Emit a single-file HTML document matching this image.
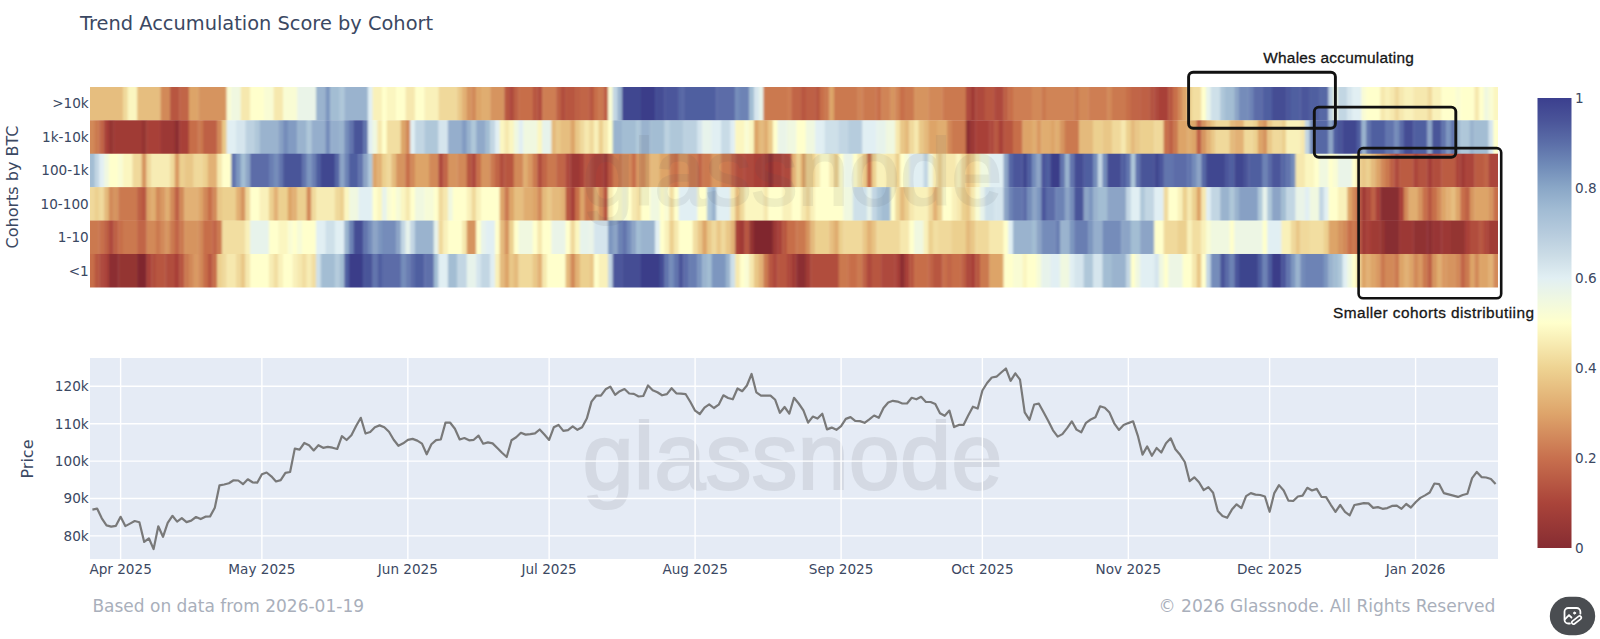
<!DOCTYPE html>
<html><head><meta charset="utf-8"><title>Trend Accumulation Score by Cohort</title>
<style>
html,body{margin:0;padding:0;background:#fff;}
body{width:1600px;height:639px;overflow:hidden;position:relative;font-family:"DejaVu Sans","Liberation Sans",sans-serif;}
svg{position:absolute;left:0;top:0;display:block}
text{font-family:"DejaVu Sans","Liberation Sans",sans-serif;fill:#3b4862}
.ann{font-family:"Liberation Sans","DejaVu Sans",sans-serif;fill:#161616;stroke:#161616;stroke-width:0.3px}
</style></head><body>
<svg width="1600" height="639" viewBox="0 0 1600 639">
<defs>
<linearGradient id="cb" x1="0" y1="1" x2="0" y2="0">
<stop offset="0" stop-color="#862c32"/><stop offset="0.1" stop-color="#aa443a"/><stop offset="0.2" stop-color="#c8704e"/><stop offset="0.3" stop-color="#dea56b"/><stop offset="0.4" stop-color="#eed392"/><stop offset="0.5" stop-color="#ffffcc"/><stop offset="0.55" stop-color="#f0f8e0"/><stop offset="0.6" stop-color="#e1eff3"/><stop offset="0.65" stop-color="#cbdce6"/><stop offset="0.7" stop-color="#b6cbdd"/><stop offset="0.75" stop-color="#a2bcd4"/><stop offset="0.8" stop-color="#8aa7c7"/><stop offset="0.85" stop-color="#708bb8"/><stop offset="0.9" stop-color="#5b6ea8"/><stop offset="0.95" stop-color="#4a5499"/><stop offset="1" stop-color="#3b3f8e"/></linearGradient>
<filter id="hb" x="-2%" y="-10%" width="104%" height="120%"><feGaussianBlur stdDeviation="0.85 0.45"/></filter>
<clipPath id="hc"><rect x="90" y="86.9" width="1408" height="200.5"/></clipPath>
</defs>
<rect width="1600" height="639" fill="#fff"/>
<g clip-path="url(#hc)"><g filter="url(#hb)">
<rect x="82.00" y="81.90" width="41.26" height="38.72" fill="#e6be7f"/><rect x="122.96" y="81.90" width="5.01" height="38.72" fill="#f0d99b"/><rect x="127.67" y="81.90" width="9.72" height="38.72" fill="#fbf6c0"/><rect x="137.09" y="81.90" width="23.85" height="38.72" fill="#e6be7f"/><rect x="160.64" y="81.90" width="9.72" height="38.72" fill="#d28959"/><rect x="170.05" y="81.90" width="9.72" height="38.72" fill="#b85741"/><rect x="179.47" y="81.90" width="9.72" height="38.72" fill="#c16546"/><rect x="188.89" y="81.90" width="9.72" height="38.72" fill="#dda468"/><rect x="198.31" y="81.90" width="28.55" height="38.72" fill="#d6945f"/><rect x="226.56" y="81.90" width="5.01" height="38.72" fill="#f9fcd4"/><rect x="231.27" y="81.90" width="9.72" height="38.72" fill="#f0f8e0"/><rect x="240.69" y="81.90" width="9.72" height="38.72" fill="#f6e8ae"/><rect x="250.11" y="81.90" width="14.43" height="38.72" fill="#ffffcc"/><rect x="264.23" y="81.90" width="9.72" height="38.72" fill="#f9fcd4"/><rect x="273.65" y="81.90" width="9.72" height="38.72" fill="#f6e8ae"/><rect x="283.07" y="81.90" width="14.43" height="38.72" fill="#f9fcd4"/><rect x="297.20" y="81.90" width="19.14" height="38.72" fill="#eaf4e8"/><rect x="316.03" y="81.90" width="9.72" height="38.72" fill="#9ab3ce"/><rect x="325.45" y="81.90" width="5.01" height="38.72" fill="#7d96bf"/><rect x="330.16" y="81.90" width="9.72" height="38.72" fill="#a3bdd3"/><rect x="339.58" y="81.90" width="5.01" height="38.72" fill="#afc7d9"/><rect x="344.29" y="81.90" width="23.85" height="38.72" fill="#9ab3ce"/><rect x="367.83" y="81.90" width="5.01" height="38.72" fill="#e1eff3"/><rect x="372.54" y="81.90" width="9.72" height="38.72" fill="#f9f1ba"/><rect x="381.96" y="81.90" width="5.01" height="38.72" fill="#ffffcc"/><rect x="386.67" y="81.90" width="9.72" height="38.72" fill="#fbf6c0"/><rect x="396.09" y="81.90" width="9.72" height="38.72" fill="#ffffcc"/><rect x="405.51" y="81.90" width="9.72" height="38.72" fill="#f6e8ae"/><rect x="414.92" y="81.90" width="9.72" height="38.72" fill="#ffffcc"/><rect x="424.34" y="81.90" width="14.43" height="38.72" fill="#f9f1ba"/><rect x="438.47" y="81.90" width="19.14" height="38.72" fill="#f0d99b"/><rect x="457.30" y="81.90" width="5.01" height="38.72" fill="#e9c787"/><rect x="462.01" y="81.90" width="5.01" height="38.72" fill="#e2b174"/><rect x="466.72" y="81.90" width="5.01" height="38.72" fill="#d6945f"/><rect x="471.43" y="81.90" width="5.01" height="38.72" fill="#d28959"/><rect x="476.14" y="81.90" width="5.01" height="38.72" fill="#dda468"/><rect x="480.85" y="81.90" width="9.72" height="38.72" fill="#e0ad70"/><rect x="490.27" y="81.90" width="14.43" height="38.72" fill="#d6945f"/><rect x="504.39" y="81.90" width="5.01" height="38.72" fill="#b85741"/><rect x="509.10" y="81.90" width="5.01" height="38.72" fill="#ae493c"/><rect x="513.81" y="81.90" width="5.01" height="38.72" fill="#be6045"/><rect x="518.52" y="81.90" width="14.43" height="38.72" fill="#c76e4a"/><rect x="532.65" y="81.90" width="5.01" height="38.72" fill="#b85741"/><rect x="537.36" y="81.90" width="5.01" height="38.72" fill="#b14e3d"/><rect x="542.07" y="81.90" width="14.43" height="38.72" fill="#ce7e53"/><rect x="556.19" y="81.90" width="5.01" height="38.72" fill="#be6045"/><rect x="560.90" y="81.90" width="5.01" height="38.72" fill="#b14e3d"/><rect x="565.61" y="81.90" width="9.72" height="38.72" fill="#b85741"/><rect x="575.03" y="81.90" width="5.01" height="38.72" fill="#be6045"/><rect x="579.74" y="81.90" width="9.72" height="38.72" fill="#c16546"/><rect x="589.16" y="81.90" width="5.01" height="38.72" fill="#b85741"/><rect x="593.87" y="81.90" width="5.01" height="38.72" fill="#c76e4a"/><rect x="598.58" y="81.90" width="5.01" height="38.72" fill="#cb7950"/><rect x="603.28" y="81.90" width="5.01" height="38.72" fill="#be6045"/><rect x="607.99" y="81.90" width="5.01" height="38.72" fill="#f9fcd4"/><rect x="612.70" y="81.90" width="5.01" height="38.72" fill="#c2d6e3"/><rect x="617.41" y="81.90" width="5.01" height="38.72" fill="#9ab3ce"/><rect x="622.12" y="81.90" width="19.14" height="38.72" fill="#414790"/><rect x="640.96" y="81.90" width="14.43" height="38.72" fill="#3a3d89"/><rect x="655.08" y="81.90" width="9.72" height="38.72" fill="#454e94"/><rect x="664.50" y="81.90" width="14.43" height="38.72" fill="#4c579b"/><rect x="678.63" y="81.90" width="5.01" height="38.72" fill="#5767a5"/><rect x="683.34" y="81.90" width="33.26" height="38.72" fill="#505ea0"/><rect x="716.30" y="81.90" width="19.14" height="38.72" fill="#5b6ca8"/><rect x="735.14" y="81.90" width="5.01" height="38.72" fill="#748cba"/><rect x="739.85" y="81.90" width="9.72" height="38.72" fill="#6d83b5"/><rect x="749.26" y="81.90" width="5.01" height="38.72" fill="#a3bdd3"/><rect x="753.97" y="81.90" width="5.01" height="38.72" fill="#d5e5ed"/><rect x="758.68" y="81.90" width="5.01" height="38.72" fill="#e7f3eb"/><rect x="763.39" y="81.90" width="23.85" height="38.72" fill="#cb7950"/><rect x="786.94" y="81.90" width="5.01" height="38.72" fill="#ce7e53"/><rect x="791.65" y="81.90" width="9.72" height="38.72" fill="#c16546"/><rect x="801.06" y="81.90" width="5.01" height="38.72" fill="#b85741"/><rect x="805.77" y="81.90" width="9.72" height="38.72" fill="#be6045"/><rect x="815.19" y="81.90" width="5.01" height="38.72" fill="#b85741"/><rect x="819.90" y="81.90" width="5.01" height="38.72" fill="#c76e4a"/><rect x="824.61" y="81.90" width="5.01" height="38.72" fill="#cb7950"/><rect x="829.32" y="81.90" width="5.01" height="38.72" fill="#dda468"/><rect x="834.03" y="81.90" width="23.85" height="38.72" fill="#cb7950"/><rect x="857.57" y="81.90" width="5.01" height="38.72" fill="#d08456"/><rect x="862.28" y="81.90" width="14.43" height="38.72" fill="#cb7950"/><rect x="876.41" y="81.90" width="5.01" height="38.72" fill="#c76e4a"/><rect x="881.12" y="81.90" width="9.72" height="38.72" fill="#d08456"/><rect x="890.54" y="81.90" width="5.01" height="38.72" fill="#d6945f"/><rect x="895.24" y="81.90" width="5.01" height="38.72" fill="#d08456"/><rect x="899.95" y="81.90" width="5.01" height="38.72" fill="#c76e4a"/><rect x="904.66" y="81.90" width="9.72" height="38.72" fill="#cb7950"/><rect x="914.08" y="81.90" width="14.43" height="38.72" fill="#d6945f"/><rect x="928.21" y="81.90" width="14.43" height="38.72" fill="#d28959"/><rect x="942.33" y="81.90" width="23.85" height="38.72" fill="#cb7950"/><rect x="965.88" y="81.90" width="5.01" height="38.72" fill="#ae493c"/><rect x="970.59" y="81.90" width="5.01" height="38.72" fill="#a03b36"/><rect x="975.30" y="81.90" width="9.72" height="38.72" fill="#ae493c"/><rect x="984.72" y="81.90" width="9.72" height="38.72" fill="#b85741"/><rect x="994.13" y="81.90" width="9.72" height="38.72" fill="#ae493c"/><rect x="1003.55" y="81.90" width="5.01" height="38.72" fill="#be6045"/><rect x="1008.26" y="81.90" width="5.01" height="38.72" fill="#c76e4a"/><rect x="1012.97" y="81.90" width="19.14" height="38.72" fill="#ce7e53"/><rect x="1031.81" y="81.90" width="9.72" height="38.72" fill="#d28959"/><rect x="1041.22" y="81.90" width="5.01" height="38.72" fill="#cb7950"/><rect x="1045.93" y="81.90" width="28.55" height="38.72" fill="#d08456"/><rect x="1074.19" y="81.90" width="5.01" height="38.72" fill="#cb7950"/><rect x="1078.90" y="81.90" width="9.72" height="38.72" fill="#d28959"/><rect x="1088.31" y="81.90" width="19.14" height="38.72" fill="#ce7e53"/><rect x="1107.15" y="81.90" width="5.01" height="38.72" fill="#d28959"/><rect x="1111.86" y="81.90" width="14.43" height="38.72" fill="#cb7950"/><rect x="1125.99" y="81.90" width="5.01" height="38.72" fill="#c76e4a"/><rect x="1130.70" y="81.90" width="9.72" height="38.72" fill="#c16546"/><rect x="1140.11" y="81.90" width="9.72" height="38.72" fill="#be6045"/><rect x="1149.53" y="81.90" width="5.01" height="38.72" fill="#b4523f"/><rect x="1154.24" y="81.90" width="5.01" height="38.72" fill="#ae493c"/><rect x="1158.95" y="81.90" width="9.72" height="38.72" fill="#a84038"/><rect x="1168.37" y="81.90" width="5.01" height="38.72" fill="#b85741"/><rect x="1173.08" y="81.90" width="5.01" height="38.72" fill="#c76e4a"/><rect x="1177.79" y="81.90" width="5.01" height="38.72" fill="#d28959"/><rect x="1182.49" y="81.90" width="5.01" height="38.72" fill="#dda468"/><rect x="1187.20" y="81.90" width="5.01" height="38.72" fill="#ecd08f"/><rect x="1191.91" y="81.90" width="9.72" height="38.72" fill="#f2dea1"/><rect x="1201.33" y="81.90" width="5.01" height="38.72" fill="#ffffcc"/><rect x="1206.04" y="81.90" width="5.01" height="38.72" fill="#e7f3eb"/><rect x="1210.75" y="81.90" width="9.72" height="38.72" fill="#cee0e9"/><rect x="1220.17" y="81.90" width="5.01" height="38.72" fill="#afc7d9"/><rect x="1224.88" y="81.90" width="9.72" height="38.72" fill="#a3bdd3"/><rect x="1234.29" y="81.90" width="5.01" height="38.72" fill="#8ca4c6"/><rect x="1239.00" y="81.90" width="9.72" height="38.72" fill="#748cba"/><rect x="1248.42" y="81.90" width="5.01" height="38.72" fill="#6d83b5"/><rect x="1253.13" y="81.90" width="9.72" height="38.72" fill="#5b6ca8"/><rect x="1262.55" y="81.90" width="9.72" height="38.72" fill="#505ea0"/><rect x="1271.97" y="81.90" width="14.43" height="38.72" fill="#454e94"/><rect x="1286.09" y="81.90" width="5.01" height="38.72" fill="#4c579b"/><rect x="1290.80" y="81.90" width="9.72" height="38.72" fill="#505ea0"/><rect x="1300.22" y="81.90" width="9.72" height="38.72" fill="#4c579b"/><rect x="1309.64" y="81.90" width="9.72" height="38.72" fill="#505ea0"/><rect x="1319.06" y="81.90" width="9.72" height="38.72" fill="#5767a5"/><rect x="1328.47" y="81.90" width="5.01" height="38.72" fill="#c2d6e3"/><rect x="1333.18" y="81.90" width="5.01" height="38.72" fill="#f0f8e0"/><rect x="1337.89" y="81.90" width="9.72" height="38.72" fill="#c2d6e3"/><rect x="1347.31" y="81.90" width="5.01" height="38.72" fill="#d5e5ed"/><rect x="1352.02" y="81.90" width="9.72" height="38.72" fill="#e1eff3"/><rect x="1361.44" y="81.90" width="5.01" height="38.72" fill="#f9fcd4"/><rect x="1366.15" y="81.90" width="14.43" height="38.72" fill="#ffffcc"/><rect x="1380.27" y="81.90" width="5.01" height="38.72" fill="#f6e8ae"/><rect x="1384.98" y="81.90" width="5.01" height="38.72" fill="#f9f1ba"/><rect x="1389.69" y="81.90" width="5.01" height="38.72" fill="#f6e8ae"/><rect x="1394.40" y="81.90" width="5.01" height="38.72" fill="#f0d99b"/><rect x="1399.11" y="81.90" width="5.01" height="38.72" fill="#f6e8ae"/><rect x="1403.82" y="81.90" width="9.72" height="38.72" fill="#f9f1ba"/><rect x="1413.24" y="81.90" width="14.43" height="38.72" fill="#f6e8ae"/><rect x="1427.36" y="81.90" width="5.01" height="38.72" fill="#f0d99b"/><rect x="1432.07" y="81.90" width="9.72" height="38.72" fill="#f9f1ba"/><rect x="1441.49" y="81.90" width="14.43" height="38.72" fill="#ffffcc"/><rect x="1455.62" y="81.90" width="5.01" height="38.72" fill="#f9fcd4"/><rect x="1460.33" y="81.90" width="14.43" height="38.72" fill="#ffffcc"/><rect x="1474.45" y="81.90" width="5.01" height="38.72" fill="#f6e8ae"/><rect x="1479.16" y="81.90" width="5.01" height="38.72" fill="#ffffcc"/><rect x="1483.87" y="81.90" width="5.01" height="38.72" fill="#f0f8e0"/><rect x="1488.58" y="81.90" width="5.01" height="38.72" fill="#f9fcd4"/><rect x="1493.29" y="81.90" width="13.01" height="38.72" fill="#fbf6c0"/>
<rect x="82.00" y="120.32" width="13.01" height="33.72" fill="#d28959"/><rect x="94.71" y="120.32" width="5.01" height="33.72" fill="#cb7950"/><rect x="99.42" y="120.32" width="5.01" height="33.72" fill="#c16546"/><rect x="104.13" y="120.32" width="5.01" height="33.72" fill="#a84038"/><rect x="108.84" y="120.32" width="5.01" height="33.72" fill="#943433"/><rect x="113.55" y="120.32" width="28.55" height="33.72" fill="#a03b36"/><rect x="141.80" y="120.32" width="5.01" height="33.72" fill="#943433"/><rect x="146.51" y="120.32" width="14.43" height="33.72" fill="#a84038"/><rect x="160.64" y="120.32" width="14.43" height="33.72" fill="#9c3935"/><rect x="174.76" y="120.32" width="5.01" height="33.72" fill="#8c2f31"/><rect x="179.47" y="120.32" width="9.72" height="33.72" fill="#a84038"/><rect x="188.89" y="120.32" width="9.72" height="33.72" fill="#c76e4a"/><rect x="198.31" y="120.32" width="5.01" height="33.72" fill="#cb7950"/><rect x="203.02" y="120.32" width="14.43" height="33.72" fill="#be6045"/><rect x="217.14" y="120.32" width="5.01" height="33.72" fill="#d28959"/><rect x="221.85" y="120.32" width="5.01" height="33.72" fill="#e9c787"/><rect x="226.56" y="120.32" width="9.72" height="33.72" fill="#e1eff3"/><rect x="235.98" y="120.32" width="9.72" height="33.72" fill="#d5e5ed"/><rect x="245.40" y="120.32" width="9.72" height="33.72" fill="#bcd1e0"/><rect x="254.82" y="120.32" width="5.01" height="33.72" fill="#afc7d9"/><rect x="259.53" y="120.32" width="19.14" height="33.72" fill="#9ab3ce"/><rect x="278.36" y="120.32" width="5.01" height="33.72" fill="#87a0c4"/><rect x="283.07" y="120.32" width="5.01" height="33.72" fill="#748cba"/><rect x="287.78" y="120.32" width="9.72" height="33.72" fill="#829bc2"/><rect x="297.20" y="120.32" width="9.72" height="33.72" fill="#9ab3ce"/><rect x="306.62" y="120.32" width="5.01" height="33.72" fill="#afc7d9"/><rect x="311.32" y="120.32" width="14.43" height="33.72" fill="#95aecc"/><rect x="325.45" y="120.32" width="5.01" height="33.72" fill="#748cba"/><rect x="330.16" y="120.32" width="9.72" height="33.72" fill="#95aecc"/><rect x="339.58" y="120.32" width="5.01" height="33.72" fill="#9ab3ce"/><rect x="344.29" y="120.32" width="5.01" height="33.72" fill="#748cba"/><rect x="349.00" y="120.32" width="5.01" height="33.72" fill="#6275ad"/><rect x="353.71" y="120.32" width="9.72" height="33.72" fill="#495499"/><rect x="363.12" y="120.32" width="5.01" height="33.72" fill="#6275ad"/><rect x="367.83" y="120.32" width="5.01" height="33.72" fill="#e1eff3"/><rect x="372.54" y="120.32" width="5.01" height="33.72" fill="#f0f8e0"/><rect x="377.25" y="120.32" width="5.01" height="33.72" fill="#f6e8ae"/><rect x="381.96" y="120.32" width="5.01" height="33.72" fill="#ffffcc"/><rect x="386.67" y="120.32" width="14.43" height="33.72" fill="#f2dea1"/><rect x="400.80" y="120.32" width="5.01" height="33.72" fill="#dda468"/><rect x="405.51" y="120.32" width="5.01" height="33.72" fill="#d28959"/><rect x="410.21" y="120.32" width="5.01" height="33.72" fill="#e1eff3"/><rect x="414.92" y="120.32" width="9.72" height="33.72" fill="#c2d6e3"/><rect x="424.34" y="120.32" width="14.43" height="33.72" fill="#afc7d9"/><rect x="438.47" y="120.32" width="9.72" height="33.72" fill="#d5e5ed"/><rect x="447.89" y="120.32" width="14.43" height="33.72" fill="#95aecc"/><rect x="462.01" y="120.32" width="5.01" height="33.72" fill="#829bc2"/><rect x="466.72" y="120.32" width="5.01" height="33.72" fill="#9ab3ce"/><rect x="471.43" y="120.32" width="5.01" height="33.72" fill="#afc7d9"/><rect x="476.14" y="120.32" width="9.72" height="33.72" fill="#90a9c9"/><rect x="485.56" y="120.32" width="5.01" height="33.72" fill="#a3bdd3"/><rect x="490.27" y="120.32" width="5.01" height="33.72" fill="#c2d6e3"/><rect x="494.98" y="120.32" width="5.01" height="33.72" fill="#e1eff3"/><rect x="499.69" y="120.32" width="5.01" height="33.72" fill="#fbf6c0"/><rect x="504.39" y="120.32" width="5.01" height="33.72" fill="#f6e8ae"/><rect x="509.10" y="120.32" width="5.01" height="33.72" fill="#fbf6c0"/><rect x="513.81" y="120.32" width="5.01" height="33.72" fill="#f0f8e0"/><rect x="518.52" y="120.32" width="5.01" height="33.72" fill="#e1eff3"/><rect x="523.23" y="120.32" width="14.43" height="33.72" fill="#f0f8e0"/><rect x="537.36" y="120.32" width="5.01" height="33.72" fill="#fbf6c0"/><rect x="542.07" y="120.32" width="9.72" height="33.72" fill="#e7f3eb"/><rect x="551.48" y="120.32" width="5.01" height="33.72" fill="#e4ba7b"/><rect x="556.19" y="120.32" width="5.01" height="33.72" fill="#e9c787"/><rect x="560.90" y="120.32" width="9.72" height="33.72" fill="#e6be7f"/><rect x="570.32" y="120.32" width="5.01" height="33.72" fill="#dda468"/><rect x="575.03" y="120.32" width="5.01" height="33.72" fill="#e9c787"/><rect x="579.74" y="120.32" width="5.01" height="33.72" fill="#f0d99b"/><rect x="584.45" y="120.32" width="5.01" height="33.72" fill="#f6e8ae"/><rect x="589.16" y="120.32" width="5.01" height="33.72" fill="#f0d99b"/><rect x="593.87" y="120.32" width="5.01" height="33.72" fill="#f9f1ba"/><rect x="598.58" y="120.32" width="5.01" height="33.72" fill="#ecd08f"/><rect x="603.28" y="120.32" width="5.01" height="33.72" fill="#f6e8ae"/><rect x="607.99" y="120.32" width="5.01" height="33.72" fill="#ffffcc"/><rect x="612.70" y="120.32" width="9.72" height="33.72" fill="#9ab3ce"/><rect x="622.12" y="120.32" width="14.43" height="33.72" fill="#a3bdd3"/><rect x="636.25" y="120.32" width="5.01" height="33.72" fill="#afc7d9"/><rect x="640.96" y="120.32" width="9.72" height="33.72" fill="#9ab3ce"/><rect x="650.37" y="120.32" width="14.43" height="33.72" fill="#a3bdd3"/><rect x="664.50" y="120.32" width="5.01" height="33.72" fill="#bcd1e0"/><rect x="669.21" y="120.32" width="14.43" height="33.72" fill="#afc7d9"/><rect x="683.34" y="120.32" width="14.43" height="33.72" fill="#bcd1e0"/><rect x="697.46" y="120.32" width="5.01" height="33.72" fill="#d5e5ed"/><rect x="702.17" y="120.32" width="9.72" height="33.72" fill="#e7f3eb"/><rect x="711.59" y="120.32" width="9.72" height="33.72" fill="#e1eff3"/><rect x="721.01" y="120.32" width="9.72" height="33.72" fill="#c8dbe6"/><rect x="730.43" y="120.32" width="5.01" height="33.72" fill="#e1eff3"/><rect x="735.14" y="120.32" width="9.72" height="33.72" fill="#fbf6c0"/><rect x="744.56" y="120.32" width="5.01" height="33.72" fill="#f9fcd4"/><rect x="749.26" y="120.32" width="5.01" height="33.72" fill="#fbf6c0"/><rect x="753.97" y="120.32" width="5.01" height="33.72" fill="#dda468"/><rect x="758.68" y="120.32" width="5.01" height="33.72" fill="#e4ba7b"/><rect x="763.39" y="120.32" width="5.01" height="33.72" fill="#e0ad70"/><rect x="768.10" y="120.32" width="5.01" height="33.72" fill="#e9c787"/><rect x="772.81" y="120.32" width="5.01" height="33.72" fill="#ffffcc"/><rect x="777.52" y="120.32" width="9.72" height="33.72" fill="#eaf4e8"/><rect x="786.94" y="120.32" width="9.72" height="33.72" fill="#f0f8e0"/><rect x="796.35" y="120.32" width="9.72" height="33.72" fill="#ffffcc"/><rect x="805.77" y="120.32" width="9.72" height="33.72" fill="#f0f8e0"/><rect x="815.19" y="120.32" width="9.72" height="33.72" fill="#e1eff3"/><rect x="824.61" y="120.32" width="14.43" height="33.72" fill="#cee0e9"/><rect x="838.74" y="120.32" width="9.72" height="33.72" fill="#c2d6e3"/><rect x="848.15" y="120.32" width="14.43" height="33.72" fill="#b6ccdd"/><rect x="862.28" y="120.32" width="14.43" height="33.72" fill="#e1eff3"/><rect x="876.41" y="120.32" width="9.72" height="33.72" fill="#e7f3eb"/><rect x="885.83" y="120.32" width="9.72" height="33.72" fill="#f0f8e0"/><rect x="895.24" y="120.32" width="5.01" height="33.72" fill="#f6e8ae"/><rect x="899.95" y="120.32" width="5.01" height="33.72" fill="#e9c787"/><rect x="904.66" y="120.32" width="5.01" height="33.72" fill="#e4ba7b"/><rect x="909.37" y="120.32" width="5.01" height="33.72" fill="#f0d99b"/><rect x="914.08" y="120.32" width="5.01" height="33.72" fill="#f6e8ae"/><rect x="918.79" y="120.32" width="5.01" height="33.72" fill="#e9c787"/><rect x="923.50" y="120.32" width="5.01" height="33.72" fill="#e4ba7b"/><rect x="928.21" y="120.32" width="9.72" height="33.72" fill="#dda468"/><rect x="937.63" y="120.32" width="9.72" height="33.72" fill="#e0ad70"/><rect x="947.04" y="120.32" width="5.01" height="33.72" fill="#d28959"/><rect x="951.75" y="120.32" width="14.43" height="33.72" fill="#cb7950"/><rect x="965.88" y="120.32" width="5.01" height="33.72" fill="#8c2f31"/><rect x="970.59" y="120.32" width="5.01" height="33.72" fill="#9c3935"/><rect x="975.30" y="120.32" width="14.43" height="33.72" fill="#a84038"/><rect x="989.42" y="120.32" width="5.01" height="33.72" fill="#ae493c"/><rect x="994.13" y="120.32" width="5.01" height="33.72" fill="#b85741"/><rect x="998.84" y="120.32" width="5.01" height="33.72" fill="#a84038"/><rect x="1003.55" y="120.32" width="9.72" height="33.72" fill="#b85741"/><rect x="1012.97" y="120.32" width="9.72" height="33.72" fill="#c76e4a"/><rect x="1022.39" y="120.32" width="9.72" height="33.72" fill="#dda468"/><rect x="1031.81" y="120.32" width="5.01" height="33.72" fill="#e0ad70"/><rect x="1036.52" y="120.32" width="5.01" height="33.72" fill="#d99962"/><rect x="1041.22" y="120.32" width="9.72" height="33.72" fill="#e0ad70"/><rect x="1050.64" y="120.32" width="5.01" height="33.72" fill="#dda468"/><rect x="1055.35" y="120.32" width="5.01" height="33.72" fill="#e0ad70"/><rect x="1060.06" y="120.32" width="5.01" height="33.72" fill="#d6945f"/><rect x="1064.77" y="120.32" width="14.43" height="33.72" fill="#cb7950"/><rect x="1078.90" y="120.32" width="14.43" height="33.72" fill="#e4ba7b"/><rect x="1093.02" y="120.32" width="9.72" height="33.72" fill="#ecd08f"/><rect x="1102.44" y="120.32" width="9.72" height="33.72" fill="#e9c787"/><rect x="1111.86" y="120.32" width="9.72" height="33.72" fill="#f0d99b"/><rect x="1121.28" y="120.32" width="5.01" height="33.72" fill="#f6e8ae"/><rect x="1125.99" y="120.32" width="5.01" height="33.72" fill="#ecd08f"/><rect x="1130.70" y="120.32" width="5.01" height="33.72" fill="#e4ba7b"/><rect x="1135.40" y="120.32" width="5.01" height="33.72" fill="#e9c787"/><rect x="1140.11" y="120.32" width="14.43" height="33.72" fill="#ecd08f"/><rect x="1154.24" y="120.32" width="9.72" height="33.72" fill="#f0d99b"/><rect x="1163.66" y="120.32" width="5.01" height="33.72" fill="#c76e4a"/><rect x="1168.37" y="120.32" width="5.01" height="33.72" fill="#be6045"/><rect x="1173.08" y="120.32" width="5.01" height="33.72" fill="#cb7950"/><rect x="1177.79" y="120.32" width="9.72" height="33.72" fill="#dda468"/><rect x="1187.20" y="120.32" width="5.01" height="33.72" fill="#e0ad70"/><rect x="1191.91" y="120.32" width="5.01" height="33.72" fill="#dda468"/><rect x="1196.62" y="120.32" width="5.01" height="33.72" fill="#be6045"/><rect x="1201.33" y="120.32" width="5.01" height="33.72" fill="#d6945f"/><rect x="1206.04" y="120.32" width="5.01" height="33.72" fill="#e2b174"/><rect x="1210.75" y="120.32" width="5.01" height="33.72" fill="#e9c787"/><rect x="1215.46" y="120.32" width="14.43" height="33.72" fill="#f0d99b"/><rect x="1229.59" y="120.32" width="5.01" height="33.72" fill="#e4ba7b"/><rect x="1234.29" y="120.32" width="9.72" height="33.72" fill="#e2b174"/><rect x="1243.71" y="120.32" width="9.72" height="33.72" fill="#f0d99b"/><rect x="1253.13" y="120.32" width="5.01" height="33.72" fill="#ecd08f"/><rect x="1257.84" y="120.32" width="5.01" height="33.72" fill="#dda468"/><rect x="1262.55" y="120.32" width="5.01" height="33.72" fill="#d6945f"/><rect x="1267.26" y="120.32" width="5.01" height="33.72" fill="#e9c787"/><rect x="1271.97" y="120.32" width="9.72" height="33.72" fill="#f0d99b"/><rect x="1281.38" y="120.32" width="5.01" height="33.72" fill="#ecd08f"/><rect x="1286.09" y="120.32" width="14.43" height="33.72" fill="#f9f1ba"/><rect x="1300.22" y="120.32" width="5.01" height="33.72" fill="#f6e8ae"/><rect x="1304.93" y="120.32" width="5.01" height="33.72" fill="#c2d6e3"/><rect x="1309.64" y="120.32" width="5.01" height="33.72" fill="#748cba"/><rect x="1314.35" y="120.32" width="14.43" height="33.72" fill="#5767a5"/><rect x="1328.47" y="120.32" width="5.01" height="33.72" fill="#8ca4c6"/><rect x="1333.18" y="120.32" width="5.01" height="33.72" fill="#505ea0"/><rect x="1337.89" y="120.32" width="5.01" height="33.72" fill="#495499"/><rect x="1342.60" y="120.32" width="14.43" height="33.72" fill="#414790"/><rect x="1356.73" y="120.32" width="5.01" height="33.72" fill="#505ea0"/><rect x="1361.44" y="120.32" width="5.01" height="33.72" fill="#9ab3ce"/><rect x="1366.15" y="120.32" width="5.01" height="33.72" fill="#6275ad"/><rect x="1370.86" y="120.32" width="14.43" height="33.72" fill="#505ea0"/><rect x="1384.98" y="120.32" width="9.72" height="33.72" fill="#6275ad"/><rect x="1394.40" y="120.32" width="5.01" height="33.72" fill="#748cba"/><rect x="1399.11" y="120.32" width="5.01" height="33.72" fill="#5b6ca8"/><rect x="1403.82" y="120.32" width="9.72" height="33.72" fill="#454e94"/><rect x="1413.24" y="120.32" width="14.43" height="33.72" fill="#505ea0"/><rect x="1427.36" y="120.32" width="5.01" height="33.72" fill="#8ca4c6"/><rect x="1432.07" y="120.32" width="9.72" height="33.72" fill="#495499"/><rect x="1441.49" y="120.32" width="5.01" height="33.72" fill="#6275ad"/><rect x="1446.20" y="120.32" width="5.01" height="33.72" fill="#7d96bf"/><rect x="1450.91" y="120.32" width="5.01" height="33.72" fill="#6275ad"/><rect x="1455.62" y="120.32" width="5.01" height="33.72" fill="#9ab3ce"/><rect x="1460.33" y="120.32" width="9.72" height="33.72" fill="#afc7d9"/><rect x="1469.75" y="120.32" width="5.01" height="33.72" fill="#9ab3ce"/><rect x="1474.45" y="120.32" width="14.43" height="33.72" fill="#a3bdd3"/><rect x="1488.58" y="120.32" width="5.01" height="33.72" fill="#d5e5ed"/><rect x="1493.29" y="120.32" width="13.01" height="33.72" fill="#ffffcc"/>
<rect x="82.00" y="153.73" width="13.01" height="33.72" fill="#a3bdd3"/><rect x="94.71" y="153.73" width="5.01" height="33.72" fill="#c2d6e3"/><rect x="99.42" y="153.73" width="5.01" height="33.72" fill="#e1eff3"/><rect x="104.13" y="153.73" width="5.01" height="33.72" fill="#f0f8e0"/><rect x="108.84" y="153.73" width="9.72" height="33.72" fill="#ffffcc"/><rect x="118.25" y="153.73" width="5.01" height="33.72" fill="#f9fcd4"/><rect x="122.96" y="153.73" width="9.72" height="33.72" fill="#fbf6c0"/><rect x="132.38" y="153.73" width="9.72" height="33.72" fill="#f0d99b"/><rect x="141.80" y="153.73" width="5.01" height="33.72" fill="#d6945f"/><rect x="146.51" y="153.73" width="5.01" height="33.72" fill="#f0d99b"/><rect x="151.22" y="153.73" width="19.14" height="33.72" fill="#f7ecb4"/><rect x="170.05" y="153.73" width="5.01" height="33.72" fill="#f0d99b"/><rect x="174.76" y="153.73" width="5.01" height="33.72" fill="#d99962"/><rect x="179.47" y="153.73" width="5.01" height="33.72" fill="#ecd08f"/><rect x="184.18" y="153.73" width="9.72" height="33.72" fill="#e9c787"/><rect x="193.60" y="153.73" width="9.72" height="33.72" fill="#f0d99b"/><rect x="203.02" y="153.73" width="5.01" height="33.72" fill="#ecd08f"/><rect x="207.73" y="153.73" width="9.72" height="33.72" fill="#e2b174"/><rect x="217.14" y="153.73" width="5.01" height="33.72" fill="#f6e8ae"/><rect x="221.85" y="153.73" width="9.72" height="33.72" fill="#ffffcc"/><rect x="231.27" y="153.73" width="5.01" height="33.72" fill="#6275ad"/><rect x="235.98" y="153.73" width="5.01" height="33.72" fill="#7d96bf"/><rect x="240.69" y="153.73" width="5.01" height="33.72" fill="#a3bdd3"/><rect x="245.40" y="153.73" width="5.01" height="33.72" fill="#8ca4c6"/><rect x="250.11" y="153.73" width="19.14" height="33.72" fill="#5b6ca8"/><rect x="268.94" y="153.73" width="5.01" height="33.72" fill="#697eb2"/><rect x="273.65" y="153.73" width="5.01" height="33.72" fill="#748cba"/><rect x="278.36" y="153.73" width="5.01" height="33.72" fill="#6275ad"/><rect x="283.07" y="153.73" width="19.14" height="33.72" fill="#495499"/><rect x="301.91" y="153.73" width="5.01" height="33.72" fill="#6275ad"/><rect x="306.62" y="153.73" width="5.01" height="33.72" fill="#7d96bf"/><rect x="311.32" y="153.73" width="5.01" height="33.72" fill="#697eb2"/><rect x="316.03" y="153.73" width="5.01" height="33.72" fill="#505ea0"/><rect x="320.74" y="153.73" width="14.43" height="33.72" fill="#414790"/><rect x="334.87" y="153.73" width="5.01" height="33.72" fill="#5767a5"/><rect x="339.58" y="153.73" width="5.01" height="33.72" fill="#8ca4c6"/><rect x="344.29" y="153.73" width="5.01" height="33.72" fill="#6d83b5"/><rect x="349.00" y="153.73" width="9.72" height="33.72" fill="#505ea0"/><rect x="358.41" y="153.73" width="5.01" height="33.72" fill="#6275ad"/><rect x="363.12" y="153.73" width="5.01" height="33.72" fill="#8ca4c6"/><rect x="367.83" y="153.73" width="5.01" height="33.72" fill="#afc7d9"/><rect x="372.54" y="153.73" width="5.01" height="33.72" fill="#dda468"/><rect x="377.25" y="153.73" width="5.01" height="33.72" fill="#e2b174"/><rect x="381.96" y="153.73" width="5.01" height="33.72" fill="#ecd08f"/><rect x="386.67" y="153.73" width="5.01" height="33.72" fill="#f0d99b"/><rect x="391.38" y="153.73" width="5.01" height="33.72" fill="#e4ba7b"/><rect x="396.09" y="153.73" width="9.72" height="33.72" fill="#d6945f"/><rect x="405.51" y="153.73" width="5.01" height="33.72" fill="#c76e4a"/><rect x="410.21" y="153.73" width="5.01" height="33.72" fill="#d28959"/><rect x="414.92" y="153.73" width="14.43" height="33.72" fill="#dda468"/><rect x="429.05" y="153.73" width="9.72" height="33.72" fill="#d28959"/><rect x="438.47" y="153.73" width="5.01" height="33.72" fill="#ae493c"/><rect x="443.18" y="153.73" width="5.01" height="33.72" fill="#c16546"/><rect x="447.89" y="153.73" width="9.72" height="33.72" fill="#d6945f"/><rect x="457.30" y="153.73" width="9.72" height="33.72" fill="#d28959"/><rect x="466.72" y="153.73" width="5.01" height="33.72" fill="#b85741"/><rect x="471.43" y="153.73" width="5.01" height="33.72" fill="#ae493c"/><rect x="476.14" y="153.73" width="5.01" height="33.72" fill="#c76e4a"/><rect x="480.85" y="153.73" width="9.72" height="33.72" fill="#d6945f"/><rect x="490.27" y="153.73" width="5.01" height="33.72" fill="#cb7950"/><rect x="494.98" y="153.73" width="5.01" height="33.72" fill="#c16546"/><rect x="499.69" y="153.73" width="5.01" height="33.72" fill="#b14e3d"/><rect x="504.39" y="153.73" width="9.72" height="33.72" fill="#b85741"/><rect x="513.81" y="153.73" width="9.72" height="33.72" fill="#d28959"/><rect x="523.23" y="153.73" width="5.01" height="33.72" fill="#e0ad70"/><rect x="527.94" y="153.73" width="5.01" height="33.72" fill="#d99962"/><rect x="532.65" y="153.73" width="5.01" height="33.72" fill="#cb7950"/><rect x="537.36" y="153.73" width="5.01" height="33.72" fill="#b14e3d"/><rect x="542.07" y="153.73" width="5.01" height="33.72" fill="#c16546"/><rect x="546.78" y="153.73" width="9.72" height="33.72" fill="#cb7950"/><rect x="556.19" y="153.73" width="9.72" height="33.72" fill="#c16546"/><rect x="565.61" y="153.73" width="5.01" height="33.72" fill="#ae493c"/><rect x="570.32" y="153.73" width="9.72" height="33.72" fill="#9c3935"/><rect x="579.74" y="153.73" width="5.01" height="33.72" fill="#a84038"/><rect x="584.45" y="153.73" width="5.01" height="33.72" fill="#b85741"/><rect x="589.16" y="153.73" width="5.01" height="33.72" fill="#ae493c"/><rect x="593.87" y="153.73" width="9.72" height="33.72" fill="#a84038"/><rect x="603.28" y="153.73" width="5.01" height="33.72" fill="#9c3935"/><rect x="607.99" y="153.73" width="5.01" height="33.72" fill="#b85741"/><rect x="612.70" y="153.73" width="9.72" height="33.72" fill="#cb7950"/><rect x="622.12" y="153.73" width="9.72" height="33.72" fill="#d28959"/><rect x="631.54" y="153.73" width="5.01" height="33.72" fill="#c76e4a"/><rect x="636.25" y="153.73" width="5.01" height="33.72" fill="#d6945f"/><rect x="640.96" y="153.73" width="5.01" height="33.72" fill="#d28959"/><rect x="645.67" y="153.73" width="5.01" height="33.72" fill="#dda468"/><rect x="650.37" y="153.73" width="9.72" height="33.72" fill="#e4ba7b"/><rect x="659.79" y="153.73" width="9.72" height="33.72" fill="#dda468"/><rect x="669.21" y="153.73" width="5.01" height="33.72" fill="#cb7950"/><rect x="673.92" y="153.73" width="5.01" height="33.72" fill="#c76e4a"/><rect x="678.63" y="153.73" width="9.72" height="33.72" fill="#d6945f"/><rect x="688.05" y="153.73" width="9.72" height="33.72" fill="#cb7950"/><rect x="697.46" y="153.73" width="5.01" height="33.72" fill="#c16546"/><rect x="702.17" y="153.73" width="9.72" height="33.72" fill="#cb7950"/><rect x="711.59" y="153.73" width="9.72" height="33.72" fill="#d99962"/><rect x="721.01" y="153.73" width="9.72" height="33.72" fill="#cb7950"/><rect x="730.43" y="153.73" width="5.01" height="33.72" fill="#be6045"/><rect x="735.14" y="153.73" width="9.72" height="33.72" fill="#b14e3d"/><rect x="744.56" y="153.73" width="9.72" height="33.72" fill="#ae493c"/><rect x="753.97" y="153.73" width="9.72" height="33.72" fill="#a84038"/><rect x="763.39" y="153.73" width="5.01" height="33.72" fill="#a03b36"/><rect x="768.10" y="153.73" width="5.01" height="33.72" fill="#8c2f31"/><rect x="772.81" y="153.73" width="9.72" height="33.72" fill="#a84038"/><rect x="782.23" y="153.73" width="9.72" height="33.72" fill="#ae493c"/><rect x="791.65" y="153.73" width="5.01" height="33.72" fill="#e2b174"/><rect x="796.35" y="153.73" width="5.01" height="33.72" fill="#ecd08f"/><rect x="801.06" y="153.73" width="5.01" height="33.72" fill="#dda468"/><rect x="805.77" y="153.73" width="9.72" height="33.72" fill="#ecd08f"/><rect x="815.19" y="153.73" width="5.01" height="33.72" fill="#f6e8ae"/><rect x="819.90" y="153.73" width="9.72" height="33.72" fill="#ffffcc"/><rect x="829.32" y="153.73" width="5.01" height="33.72" fill="#f6e8ae"/><rect x="834.03" y="153.73" width="5.01" height="33.72" fill="#ecd08f"/><rect x="838.74" y="153.73" width="5.01" height="33.72" fill="#ffffcc"/><rect x="843.44" y="153.73" width="9.72" height="33.72" fill="#eaf4e8"/><rect x="852.86" y="153.73" width="5.01" height="33.72" fill="#ffffcc"/><rect x="857.57" y="153.73" width="5.01" height="33.72" fill="#f6e8ae"/><rect x="862.28" y="153.73" width="5.01" height="33.72" fill="#e9c787"/><rect x="866.99" y="153.73" width="5.01" height="33.72" fill="#c76e4a"/><rect x="871.70" y="153.73" width="5.01" height="33.72" fill="#ecd08f"/><rect x="876.41" y="153.73" width="9.72" height="33.72" fill="#f9f1ba"/><rect x="885.83" y="153.73" width="9.72" height="33.72" fill="#f6e8ae"/><rect x="895.24" y="153.73" width="5.01" height="33.72" fill="#ecd08f"/><rect x="899.95" y="153.73" width="5.01" height="33.72" fill="#ffffcc"/><rect x="904.66" y="153.73" width="5.01" height="33.72" fill="#f6fbd8"/><rect x="909.37" y="153.73" width="14.43" height="33.72" fill="#e1eff3"/><rect x="923.50" y="153.73" width="5.01" height="33.72" fill="#c2d6e3"/><rect x="928.21" y="153.73" width="5.01" height="33.72" fill="#f0f8e0"/><rect x="932.92" y="153.73" width="5.01" height="33.72" fill="#f6e8ae"/><rect x="937.63" y="153.73" width="5.01" height="33.72" fill="#ecd08f"/><rect x="942.33" y="153.73" width="14.43" height="33.72" fill="#f6e8ae"/><rect x="956.46" y="153.73" width="5.01" height="33.72" fill="#fbf6c0"/><rect x="961.17" y="153.73" width="5.01" height="33.72" fill="#f0d99b"/><rect x="965.88" y="153.73" width="5.01" height="33.72" fill="#e4ba7b"/><rect x="970.59" y="153.73" width="5.01" height="33.72" fill="#ecd08f"/><rect x="975.30" y="153.73" width="5.01" height="33.72" fill="#f9f1ba"/><rect x="980.01" y="153.73" width="9.72" height="33.72" fill="#f0f8e0"/><rect x="989.42" y="153.73" width="14.43" height="33.72" fill="#e1eff3"/><rect x="1003.55" y="153.73" width="5.01" height="33.72" fill="#8ca4c6"/><rect x="1008.26" y="153.73" width="5.01" height="33.72" fill="#5767a5"/><rect x="1012.97" y="153.73" width="9.72" height="33.72" fill="#4c579b"/><rect x="1022.39" y="153.73" width="5.01" height="33.72" fill="#414790"/><rect x="1027.10" y="153.73" width="5.01" height="33.72" fill="#505ea0"/><rect x="1031.81" y="153.73" width="5.01" height="33.72" fill="#748cba"/><rect x="1036.52" y="153.73" width="5.01" height="33.72" fill="#8ca4c6"/><rect x="1041.22" y="153.73" width="5.01" height="33.72" fill="#4c579b"/><rect x="1045.93" y="153.73" width="5.01" height="33.72" fill="#505ea0"/><rect x="1050.64" y="153.73" width="9.72" height="33.72" fill="#3a3d89"/><rect x="1060.06" y="153.73" width="5.01" height="33.72" fill="#6275ad"/><rect x="1064.77" y="153.73" width="5.01" height="33.72" fill="#9ab3ce"/><rect x="1069.48" y="153.73" width="5.01" height="33.72" fill="#6275ad"/><rect x="1074.19" y="153.73" width="9.72" height="33.72" fill="#454e94"/><rect x="1083.61" y="153.73" width="9.72" height="33.72" fill="#505ea0"/><rect x="1093.02" y="153.73" width="5.01" height="33.72" fill="#748cba"/><rect x="1097.73" y="153.73" width="5.01" height="33.72" fill="#c2d6e3"/><rect x="1102.44" y="153.73" width="5.01" height="33.72" fill="#748cba"/><rect x="1107.15" y="153.73" width="14.43" height="33.72" fill="#454e94"/><rect x="1121.28" y="153.73" width="5.01" height="33.72" fill="#505ea0"/><rect x="1125.99" y="153.73" width="5.01" height="33.72" fill="#6275ad"/><rect x="1130.70" y="153.73" width="5.01" height="33.72" fill="#afc7d9"/><rect x="1135.40" y="153.73" width="5.01" height="33.72" fill="#6275ad"/><rect x="1140.11" y="153.73" width="14.43" height="33.72" fill="#495499"/><rect x="1154.24" y="153.73" width="5.01" height="33.72" fill="#414790"/><rect x="1158.95" y="153.73" width="5.01" height="33.72" fill="#4c579b"/><rect x="1163.66" y="153.73" width="9.72" height="33.72" fill="#6275ad"/><rect x="1173.08" y="153.73" width="14.43" height="33.72" fill="#5b6ca8"/><rect x="1187.20" y="153.73" width="5.01" height="33.72" fill="#6275ad"/><rect x="1191.91" y="153.73" width="5.01" height="33.72" fill="#748cba"/><rect x="1196.62" y="153.73" width="5.01" height="33.72" fill="#8ca4c6"/><rect x="1201.33" y="153.73" width="5.01" height="33.72" fill="#5767a5"/><rect x="1206.04" y="153.73" width="19.14" height="33.72" fill="#414790"/><rect x="1224.88" y="153.73" width="5.01" height="33.72" fill="#4c579b"/><rect x="1229.59" y="153.73" width="5.01" height="33.72" fill="#505ea0"/><rect x="1234.29" y="153.73" width="9.72" height="33.72" fill="#414790"/><rect x="1243.71" y="153.73" width="5.01" height="33.72" fill="#495499"/><rect x="1248.42" y="153.73" width="14.43" height="33.72" fill="#505ea0"/><rect x="1262.55" y="153.73" width="5.01" height="33.72" fill="#6d83b5"/><rect x="1267.26" y="153.73" width="5.01" height="33.72" fill="#5b6ca8"/><rect x="1271.97" y="153.73" width="9.72" height="33.72" fill="#4c579b"/><rect x="1281.38" y="153.73" width="5.01" height="33.72" fill="#5767a5"/><rect x="1286.09" y="153.73" width="5.01" height="33.72" fill="#6275ad"/><rect x="1290.80" y="153.73" width="5.01" height="33.72" fill="#748cba"/><rect x="1295.51" y="153.73" width="9.72" height="33.72" fill="#f6e8ae"/><rect x="1304.93" y="153.73" width="9.72" height="33.72" fill="#fbf6c0"/><rect x="1314.35" y="153.73" width="5.01" height="33.72" fill="#ffffcc"/><rect x="1319.06" y="153.73" width="9.72" height="33.72" fill="#f0f8e0"/><rect x="1328.47" y="153.73" width="5.01" height="33.72" fill="#ffffcc"/><rect x="1333.18" y="153.73" width="5.01" height="33.72" fill="#f9fcd4"/><rect x="1337.89" y="153.73" width="14.43" height="33.72" fill="#eaf4e8"/><rect x="1352.02" y="153.73" width="5.01" height="33.72" fill="#ffffcc"/><rect x="1356.73" y="153.73" width="5.01" height="33.72" fill="#ecd08f"/><rect x="1361.44" y="153.73" width="5.01" height="33.72" fill="#e9c787"/><rect x="1366.15" y="153.73" width="5.01" height="33.72" fill="#ecd08f"/><rect x="1370.86" y="153.73" width="5.01" height="33.72" fill="#e4ba7b"/><rect x="1375.57" y="153.73" width="5.01" height="33.72" fill="#dda468"/><rect x="1380.27" y="153.73" width="5.01" height="33.72" fill="#d28959"/><rect x="1384.98" y="153.73" width="5.01" height="33.72" fill="#cb7950"/><rect x="1389.69" y="153.73" width="5.01" height="33.72" fill="#be6045"/><rect x="1394.40" y="153.73" width="5.01" height="33.72" fill="#ae493c"/><rect x="1399.11" y="153.73" width="14.43" height="33.72" fill="#bb5c43"/><rect x="1413.24" y="153.73" width="5.01" height="33.72" fill="#ab453a"/><rect x="1417.95" y="153.73" width="9.72" height="33.72" fill="#b4523f"/><rect x="1427.36" y="153.73" width="5.01" height="33.72" fill="#a43e37"/><rect x="1432.07" y="153.73" width="9.72" height="33.72" fill="#b14e3d"/><rect x="1441.49" y="153.73" width="14.43" height="33.72" fill="#bb5c43"/><rect x="1455.62" y="153.73" width="5.01" height="33.72" fill="#ab453a"/><rect x="1460.33" y="153.73" width="5.01" height="33.72" fill="#a03b36"/><rect x="1465.04" y="153.73" width="9.72" height="33.72" fill="#ab453a"/><rect x="1474.45" y="153.73" width="9.72" height="33.72" fill="#bb5c43"/><rect x="1483.87" y="153.73" width="5.01" height="33.72" fill="#c16546"/><rect x="1488.58" y="153.73" width="17.72" height="33.72" fill="#ab453a"/>
<rect x="82.00" y="187.15" width="13.01" height="33.72" fill="#f0d99b"/><rect x="94.71" y="187.15" width="5.01" height="33.72" fill="#ecd08f"/><rect x="99.42" y="187.15" width="5.01" height="33.72" fill="#f0d99b"/><rect x="104.13" y="187.15" width="5.01" height="33.72" fill="#e4ba7b"/><rect x="108.84" y="187.15" width="5.01" height="33.72" fill="#d28959"/><rect x="113.55" y="187.15" width="5.01" height="33.72" fill="#d6945f"/><rect x="118.25" y="187.15" width="19.14" height="33.72" fill="#cb7950"/><rect x="137.09" y="187.15" width="5.01" height="33.72" fill="#be6045"/><rect x="141.80" y="187.15" width="5.01" height="33.72" fill="#b85741"/><rect x="146.51" y="187.15" width="5.01" height="33.72" fill="#dda468"/><rect x="151.22" y="187.15" width="5.01" height="33.72" fill="#e0ad70"/><rect x="155.93" y="187.15" width="5.01" height="33.72" fill="#d28959"/><rect x="160.64" y="187.15" width="5.01" height="33.72" fill="#d99962"/><rect x="165.34" y="187.15" width="5.01" height="33.72" fill="#e0ad70"/><rect x="170.05" y="187.15" width="5.01" height="33.72" fill="#d28959"/><rect x="174.76" y="187.15" width="5.01" height="33.72" fill="#be6045"/><rect x="179.47" y="187.15" width="5.01" height="33.72" fill="#d28959"/><rect x="184.18" y="187.15" width="14.43" height="33.72" fill="#e2b174"/><rect x="198.31" y="187.15" width="5.01" height="33.72" fill="#dda468"/><rect x="203.02" y="187.15" width="5.01" height="33.72" fill="#d28959"/><rect x="207.73" y="187.15" width="5.01" height="33.72" fill="#c76e4a"/><rect x="212.43" y="187.15" width="5.01" height="33.72" fill="#d28959"/><rect x="217.14" y="187.15" width="5.01" height="33.72" fill="#e9c787"/><rect x="221.85" y="187.15" width="14.43" height="33.72" fill="#ecd08f"/><rect x="235.98" y="187.15" width="5.01" height="33.72" fill="#e2b174"/><rect x="240.69" y="187.15" width="5.01" height="33.72" fill="#d6945f"/><rect x="245.40" y="187.15" width="5.01" height="33.72" fill="#f0d99b"/><rect x="250.11" y="187.15" width="9.72" height="33.72" fill="#ffffcc"/><rect x="259.53" y="187.15" width="9.72" height="33.72" fill="#f9f1ba"/><rect x="268.94" y="187.15" width="5.01" height="33.72" fill="#ecd08f"/><rect x="273.65" y="187.15" width="5.01" height="33.72" fill="#e2b174"/><rect x="278.36" y="187.15" width="9.72" height="33.72" fill="#ecd08f"/><rect x="287.78" y="187.15" width="5.01" height="33.72" fill="#dda468"/><rect x="292.49" y="187.15" width="5.01" height="33.72" fill="#e2b174"/><rect x="297.20" y="187.15" width="9.72" height="33.72" fill="#ecd08f"/><rect x="306.62" y="187.15" width="5.01" height="33.72" fill="#d28959"/><rect x="311.32" y="187.15" width="5.01" height="33.72" fill="#f0d99b"/><rect x="316.03" y="187.15" width="19.14" height="33.72" fill="#f7ecb4"/><rect x="334.87" y="187.15" width="5.01" height="33.72" fill="#f0d99b"/><rect x="339.58" y="187.15" width="5.01" height="33.72" fill="#ecd08f"/><rect x="344.29" y="187.15" width="5.01" height="33.72" fill="#fbf6c0"/><rect x="349.00" y="187.15" width="9.72" height="33.72" fill="#f0f8e0"/><rect x="358.41" y="187.15" width="14.43" height="33.72" fill="#e1eff3"/><rect x="372.54" y="187.15" width="5.01" height="33.72" fill="#ffffcc"/><rect x="377.25" y="187.15" width="5.01" height="33.72" fill="#fbf6c0"/><rect x="381.96" y="187.15" width="5.01" height="33.72" fill="#e7f3eb"/><rect x="386.67" y="187.15" width="5.01" height="33.72" fill="#f9fcd4"/><rect x="391.38" y="187.15" width="5.01" height="33.72" fill="#ffffcc"/><rect x="396.09" y="187.15" width="5.01" height="33.72" fill="#f6fbd8"/><rect x="400.80" y="187.15" width="5.01" height="33.72" fill="#fbf6c0"/><rect x="405.51" y="187.15" width="5.01" height="33.72" fill="#f6e8ae"/><rect x="410.21" y="187.15" width="5.01" height="33.72" fill="#ffffcc"/><rect x="414.92" y="187.15" width="9.72" height="33.72" fill="#f0f8e0"/><rect x="424.34" y="187.15" width="9.72" height="33.72" fill="#f6fbd8"/><rect x="433.76" y="187.15" width="5.01" height="33.72" fill="#ffffcc"/><rect x="438.47" y="187.15" width="5.01" height="33.72" fill="#f0d99b"/><rect x="443.18" y="187.15" width="5.01" height="33.72" fill="#f6e8ae"/><rect x="447.89" y="187.15" width="5.01" height="33.72" fill="#f0f8e0"/><rect x="452.60" y="187.15" width="14.43" height="33.72" fill="#ffffcc"/><rect x="466.72" y="187.15" width="5.01" height="33.72" fill="#f9f1ba"/><rect x="471.43" y="187.15" width="5.01" height="33.72" fill="#f0d99b"/><rect x="476.14" y="187.15" width="5.01" height="33.72" fill="#f9f1ba"/><rect x="480.85" y="187.15" width="19.14" height="33.72" fill="#ffffcc"/><rect x="499.69" y="187.15" width="5.01" height="33.72" fill="#dda468"/><rect x="504.39" y="187.15" width="5.01" height="33.72" fill="#cb7950"/><rect x="509.10" y="187.15" width="5.01" height="33.72" fill="#dda468"/><rect x="513.81" y="187.15" width="9.72" height="33.72" fill="#e6be7f"/><rect x="523.23" y="187.15" width="9.72" height="33.72" fill="#e0ad70"/><rect x="532.65" y="187.15" width="5.01" height="33.72" fill="#dda468"/><rect x="537.36" y="187.15" width="5.01" height="33.72" fill="#d28959"/><rect x="542.07" y="187.15" width="5.01" height="33.72" fill="#e4ba7b"/><rect x="546.78" y="187.15" width="5.01" height="33.72" fill="#e9c787"/><rect x="551.48" y="187.15" width="9.72" height="33.72" fill="#e4ba7b"/><rect x="560.90" y="187.15" width="5.01" height="33.72" fill="#e2b174"/><rect x="565.61" y="187.15" width="5.01" height="33.72" fill="#b85741"/><rect x="570.32" y="187.15" width="5.01" height="33.72" fill="#a84038"/><rect x="575.03" y="187.15" width="5.01" height="33.72" fill="#c76e4a"/><rect x="579.74" y="187.15" width="5.01" height="33.72" fill="#dda468"/><rect x="584.45" y="187.15" width="9.72" height="33.72" fill="#cb7950"/><rect x="593.87" y="187.15" width="5.01" height="33.72" fill="#e2b174"/><rect x="598.58" y="187.15" width="5.01" height="33.72" fill="#d28959"/><rect x="603.28" y="187.15" width="5.01" height="33.72" fill="#b85741"/><rect x="607.99" y="187.15" width="5.01" height="33.72" fill="#f6e8ae"/><rect x="612.70" y="187.15" width="9.72" height="33.72" fill="#ffffcc"/><rect x="622.12" y="187.15" width="5.01" height="33.72" fill="#f6fbd8"/><rect x="626.83" y="187.15" width="5.01" height="33.72" fill="#ffffcc"/><rect x="631.54" y="187.15" width="5.01" height="33.72" fill="#f6e8ae"/><rect x="636.25" y="187.15" width="5.01" height="33.72" fill="#f2dea1"/><rect x="640.96" y="187.15" width="9.72" height="33.72" fill="#ffffcc"/><rect x="650.37" y="187.15" width="9.72" height="33.72" fill="#f0f8e0"/><rect x="659.79" y="187.15" width="5.01" height="33.72" fill="#ffffcc"/><rect x="664.50" y="187.15" width="5.01" height="33.72" fill="#f9fcd4"/><rect x="669.21" y="187.15" width="5.01" height="33.72" fill="#f2dea1"/><rect x="673.92" y="187.15" width="5.01" height="33.72" fill="#ffffcc"/><rect x="678.63" y="187.15" width="19.14" height="33.72" fill="#e1eff3"/><rect x="697.46" y="187.15" width="9.72" height="33.72" fill="#ffffcc"/><rect x="706.88" y="187.15" width="5.01" height="33.72" fill="#afc7d9"/><rect x="711.59" y="187.15" width="5.01" height="33.72" fill="#9ab3ce"/><rect x="716.30" y="187.15" width="14.43" height="33.72" fill="#e1eff3"/><rect x="730.43" y="187.15" width="5.01" height="33.72" fill="#f6e8ae"/><rect x="735.14" y="187.15" width="5.01" height="33.72" fill="#e4ba7b"/><rect x="739.85" y="187.15" width="5.01" height="33.72" fill="#f0d99b"/><rect x="744.56" y="187.15" width="19.14" height="33.72" fill="#fbf6c0"/><rect x="763.39" y="187.15" width="5.01" height="33.72" fill="#f6e8ae"/><rect x="768.10" y="187.15" width="14.43" height="33.72" fill="#ffffcc"/><rect x="782.23" y="187.15" width="9.72" height="33.72" fill="#f9f1ba"/><rect x="791.65" y="187.15" width="9.72" height="33.72" fill="#ffffcc"/><rect x="801.06" y="187.15" width="5.01" height="33.72" fill="#f6e8ae"/><rect x="805.77" y="187.15" width="5.01" height="33.72" fill="#f0d99b"/><rect x="810.48" y="187.15" width="5.01" height="33.72" fill="#f9f1ba"/><rect x="815.19" y="187.15" width="28.55" height="33.72" fill="#ffffcc"/><rect x="843.44" y="187.15" width="9.72" height="33.72" fill="#f0f8e0"/><rect x="852.86" y="187.15" width="14.43" height="33.72" fill="#cee0e9"/><rect x="866.99" y="187.15" width="5.01" height="33.72" fill="#e7f3eb"/><rect x="871.70" y="187.15" width="5.01" height="33.72" fill="#c2d6e3"/><rect x="876.41" y="187.15" width="5.01" height="33.72" fill="#afc7d9"/><rect x="881.12" y="187.15" width="9.72" height="33.72" fill="#a3bdd3"/><rect x="890.54" y="187.15" width="5.01" height="33.72" fill="#ffffcc"/><rect x="895.24" y="187.15" width="5.01" height="33.72" fill="#f0d99b"/><rect x="899.95" y="187.15" width="5.01" height="33.72" fill="#e4ba7b"/><rect x="904.66" y="187.15" width="5.01" height="33.72" fill="#ecd08f"/><rect x="909.37" y="187.15" width="5.01" height="33.72" fill="#f6e8ae"/><rect x="914.08" y="187.15" width="14.43" height="33.72" fill="#f9f1ba"/><rect x="928.21" y="187.15" width="5.01" height="33.72" fill="#f0d99b"/><rect x="932.92" y="187.15" width="5.01" height="33.72" fill="#e2b174"/><rect x="937.63" y="187.15" width="5.01" height="33.72" fill="#ecd08f"/><rect x="942.33" y="187.15" width="9.72" height="33.72" fill="#ffffcc"/><rect x="951.75" y="187.15" width="5.01" height="33.72" fill="#f9f1ba"/><rect x="956.46" y="187.15" width="5.01" height="33.72" fill="#f6e8ae"/><rect x="961.17" y="187.15" width="5.01" height="33.72" fill="#ecd08f"/><rect x="965.88" y="187.15" width="5.01" height="33.72" fill="#e9c787"/><rect x="970.59" y="187.15" width="5.01" height="33.72" fill="#f6e8ae"/><rect x="975.30" y="187.15" width="5.01" height="33.72" fill="#f9fcd4"/><rect x="980.01" y="187.15" width="5.01" height="33.72" fill="#e7f3eb"/><rect x="984.72" y="187.15" width="9.72" height="33.72" fill="#cee0e9"/><rect x="994.13" y="187.15" width="9.72" height="33.72" fill="#d5e5ed"/><rect x="1003.55" y="187.15" width="5.01" height="33.72" fill="#8ca4c6"/><rect x="1008.26" y="187.15" width="5.01" height="33.72" fill="#6d83b5"/><rect x="1012.97" y="187.15" width="9.72" height="33.72" fill="#6275ad"/><rect x="1022.39" y="187.15" width="5.01" height="33.72" fill="#5b6ca8"/><rect x="1027.10" y="187.15" width="5.01" height="33.72" fill="#748cba"/><rect x="1031.81" y="187.15" width="5.01" height="33.72" fill="#8ca4c6"/><rect x="1036.52" y="187.15" width="5.01" height="33.72" fill="#7d96bf"/><rect x="1041.22" y="187.15" width="5.01" height="33.72" fill="#4c579b"/><rect x="1045.93" y="187.15" width="9.72" height="33.72" fill="#5b6ca8"/><rect x="1055.35" y="187.15" width="9.72" height="33.72" fill="#6d83b5"/><rect x="1064.77" y="187.15" width="5.01" height="33.72" fill="#8ca4c6"/><rect x="1069.48" y="187.15" width="5.01" height="33.72" fill="#748cba"/><rect x="1074.19" y="187.15" width="9.72" height="33.72" fill="#495499"/><rect x="1083.61" y="187.15" width="5.01" height="33.72" fill="#8ca4c6"/><rect x="1088.31" y="187.15" width="5.01" height="33.72" fill="#7d96bf"/><rect x="1093.02" y="187.15" width="5.01" height="33.72" fill="#9ab3ce"/><rect x="1097.73" y="187.15" width="9.72" height="33.72" fill="#a3bdd3"/><rect x="1107.15" y="187.15" width="19.14" height="33.72" fill="#8ca4c6"/><rect x="1125.99" y="187.15" width="5.01" height="33.72" fill="#c2d6e3"/><rect x="1130.70" y="187.15" width="9.72" height="33.72" fill="#e1eff3"/><rect x="1140.11" y="187.15" width="5.01" height="33.72" fill="#afc7d9"/><rect x="1144.82" y="187.15" width="9.72" height="33.72" fill="#c2d6e3"/><rect x="1154.24" y="187.15" width="9.72" height="33.72" fill="#e1eff3"/><rect x="1163.66" y="187.15" width="5.01" height="33.72" fill="#f0d99b"/><rect x="1168.37" y="187.15" width="9.72" height="33.72" fill="#ffffcc"/><rect x="1177.79" y="187.15" width="5.01" height="33.72" fill="#f9f1ba"/><rect x="1182.49" y="187.15" width="5.01" height="33.72" fill="#ecd08f"/><rect x="1187.20" y="187.15" width="5.01" height="33.72" fill="#f6e8ae"/><rect x="1191.91" y="187.15" width="5.01" height="33.72" fill="#ecd08f"/><rect x="1196.62" y="187.15" width="5.01" height="33.72" fill="#dda468"/><rect x="1201.33" y="187.15" width="5.01" height="33.72" fill="#f6e8ae"/><rect x="1206.04" y="187.15" width="5.01" height="33.72" fill="#e1eff3"/><rect x="1210.75" y="187.15" width="9.72" height="33.72" fill="#c2d6e3"/><rect x="1220.17" y="187.15" width="9.72" height="33.72" fill="#9ab3ce"/><rect x="1229.59" y="187.15" width="5.01" height="33.72" fill="#afc7d9"/><rect x="1234.29" y="187.15" width="5.01" height="33.72" fill="#9ab3ce"/><rect x="1239.00" y="187.15" width="19.14" height="33.72" fill="#87a0c4"/><rect x="1257.84" y="187.15" width="5.01" height="33.72" fill="#afc7d9"/><rect x="1262.55" y="187.15" width="5.01" height="33.72" fill="#e7f3eb"/><rect x="1267.26" y="187.15" width="5.01" height="33.72" fill="#afc7d9"/><rect x="1271.97" y="187.15" width="9.72" height="33.72" fill="#8ca4c6"/><rect x="1281.38" y="187.15" width="5.01" height="33.72" fill="#a3bdd3"/><rect x="1286.09" y="187.15" width="9.72" height="33.72" fill="#c2d6e3"/><rect x="1295.51" y="187.15" width="9.72" height="33.72" fill="#eaf4e8"/><rect x="1304.93" y="187.15" width="5.01" height="33.72" fill="#e1eff3"/><rect x="1309.64" y="187.15" width="9.72" height="33.72" fill="#f0f8e0"/><rect x="1319.06" y="187.15" width="5.01" height="33.72" fill="#c2d6e3"/><rect x="1323.77" y="187.15" width="5.01" height="33.72" fill="#e1eff3"/><rect x="1328.47" y="187.15" width="9.72" height="33.72" fill="#ffffcc"/><rect x="1337.89" y="187.15" width="9.72" height="33.72" fill="#f9f1ba"/><rect x="1347.31" y="187.15" width="5.01" height="33.72" fill="#dda468"/><rect x="1352.02" y="187.15" width="5.01" height="33.72" fill="#d28959"/><rect x="1356.73" y="187.15" width="5.01" height="33.72" fill="#b85741"/><rect x="1361.44" y="187.15" width="5.01" height="33.72" fill="#a03b36"/><rect x="1366.15" y="187.15" width="5.01" height="33.72" fill="#ae493c"/><rect x="1370.86" y="187.15" width="5.01" height="33.72" fill="#be6045"/><rect x="1375.57" y="187.15" width="5.01" height="33.72" fill="#a84038"/><rect x="1380.27" y="187.15" width="19.14" height="33.72" fill="#882d30"/><rect x="1399.11" y="187.15" width="5.01" height="33.72" fill="#a84038"/><rect x="1403.82" y="187.15" width="5.01" height="33.72" fill="#d28959"/><rect x="1408.53" y="187.15" width="9.72" height="33.72" fill="#e0ad70"/><rect x="1417.95" y="187.15" width="5.01" height="33.72" fill="#d6945f"/><rect x="1422.66" y="187.15" width="5.01" height="33.72" fill="#c76e4a"/><rect x="1427.36" y="187.15" width="5.01" height="33.72" fill="#b85741"/><rect x="1432.07" y="187.15" width="5.01" height="33.72" fill="#c76e4a"/><rect x="1436.78" y="187.15" width="5.01" height="33.72" fill="#d28959"/><rect x="1441.49" y="187.15" width="5.01" height="33.72" fill="#dda468"/><rect x="1446.20" y="187.15" width="5.01" height="33.72" fill="#e2b174"/><rect x="1450.91" y="187.15" width="5.01" height="33.72" fill="#e6be7f"/><rect x="1455.62" y="187.15" width="5.01" height="33.72" fill="#dda468"/><rect x="1460.33" y="187.15" width="5.01" height="33.72" fill="#c76e4a"/><rect x="1465.04" y="187.15" width="5.01" height="33.72" fill="#be6045"/><rect x="1469.75" y="187.15" width="5.01" height="33.72" fill="#d6945f"/><rect x="1474.45" y="187.15" width="14.43" height="33.72" fill="#dda468"/><rect x="1488.58" y="187.15" width="5.01" height="33.72" fill="#d6945f"/><rect x="1493.29" y="187.15" width="13.01" height="33.72" fill="#c76e4a"/>
<rect x="82.00" y="220.57" width="17.72" height="33.72" fill="#cb7950"/><rect x="99.42" y="220.57" width="5.01" height="33.72" fill="#c76e4a"/><rect x="104.13" y="220.57" width="5.01" height="33.72" fill="#be6045"/><rect x="108.84" y="220.57" width="5.01" height="33.72" fill="#ae493c"/><rect x="113.55" y="220.57" width="5.01" height="33.72" fill="#be6045"/><rect x="118.25" y="220.57" width="5.01" height="33.72" fill="#c76e4a"/><rect x="122.96" y="220.57" width="14.43" height="33.72" fill="#cb7950"/><rect x="137.09" y="220.57" width="9.72" height="33.72" fill="#c16546"/><rect x="146.51" y="220.57" width="9.72" height="33.72" fill="#d28959"/><rect x="155.93" y="220.57" width="5.01" height="33.72" fill="#cb7950"/><rect x="160.64" y="220.57" width="5.01" height="33.72" fill="#d28959"/><rect x="165.34" y="220.57" width="5.01" height="33.72" fill="#d6945f"/><rect x="170.05" y="220.57" width="5.01" height="33.72" fill="#cb7950"/><rect x="174.76" y="220.57" width="5.01" height="33.72" fill="#c16546"/><rect x="179.47" y="220.57" width="5.01" height="33.72" fill="#cb7950"/><rect x="184.18" y="220.57" width="14.43" height="33.72" fill="#d6945f"/><rect x="198.31" y="220.57" width="5.01" height="33.72" fill="#d28959"/><rect x="203.02" y="220.57" width="9.72" height="33.72" fill="#c76e4a"/><rect x="212.43" y="220.57" width="5.01" height="33.72" fill="#c16546"/><rect x="217.14" y="220.57" width="5.01" height="33.72" fill="#cb7950"/><rect x="221.85" y="220.57" width="23.85" height="33.72" fill="#f2dea1"/><rect x="245.40" y="220.57" width="5.01" height="33.72" fill="#f9f1ba"/><rect x="250.11" y="220.57" width="19.14" height="33.72" fill="#e7f3eb"/><rect x="268.94" y="220.57" width="9.72" height="33.72" fill="#ffffcc"/><rect x="278.36" y="220.57" width="9.72" height="33.72" fill="#fbf6c0"/><rect x="287.78" y="220.57" width="5.01" height="33.72" fill="#f9fcd4"/><rect x="292.49" y="220.57" width="5.01" height="33.72" fill="#ffffcc"/><rect x="297.20" y="220.57" width="5.01" height="33.72" fill="#f6fbd8"/><rect x="301.91" y="220.57" width="14.43" height="33.72" fill="#ffffcc"/><rect x="316.03" y="220.57" width="9.72" height="33.72" fill="#e1eff3"/><rect x="325.45" y="220.57" width="9.72" height="33.72" fill="#cee0e9"/><rect x="334.87" y="220.57" width="9.72" height="33.72" fill="#e1eff3"/><rect x="344.29" y="220.57" width="5.01" height="33.72" fill="#9ab3ce"/><rect x="349.00" y="220.57" width="5.01" height="33.72" fill="#6d83b5"/><rect x="353.71" y="220.57" width="9.72" height="33.72" fill="#454e94"/><rect x="363.12" y="220.57" width="5.01" height="33.72" fill="#6275ad"/><rect x="367.83" y="220.57" width="5.01" height="33.72" fill="#748cba"/><rect x="372.54" y="220.57" width="5.01" height="33.72" fill="#8ca4c6"/><rect x="377.25" y="220.57" width="5.01" height="33.72" fill="#7d96bf"/><rect x="381.96" y="220.57" width="14.43" height="33.72" fill="#748cba"/><rect x="396.09" y="220.57" width="5.01" height="33.72" fill="#8ca4c6"/><rect x="400.80" y="220.57" width="5.01" height="33.72" fill="#c2d6e3"/><rect x="405.51" y="220.57" width="5.01" height="33.72" fill="#e7f3eb"/><rect x="410.21" y="220.57" width="5.01" height="33.72" fill="#c2d6e3"/><rect x="414.92" y="220.57" width="19.14" height="33.72" fill="#9ab3ce"/><rect x="433.76" y="220.57" width="5.01" height="33.72" fill="#e7f3eb"/><rect x="438.47" y="220.57" width="5.01" height="33.72" fill="#f0d99b"/><rect x="443.18" y="220.57" width="5.01" height="33.72" fill="#f9f1ba"/><rect x="447.89" y="220.57" width="14.43" height="33.72" fill="#ffffcc"/><rect x="462.01" y="220.57" width="5.01" height="33.72" fill="#f6e8ae"/><rect x="466.72" y="220.57" width="9.72" height="33.72" fill="#d6945f"/><rect x="476.14" y="220.57" width="5.01" height="33.72" fill="#ffffcc"/><rect x="480.85" y="220.57" width="5.01" height="33.72" fill="#e7f3eb"/><rect x="485.56" y="220.57" width="9.72" height="33.72" fill="#e1eff3"/><rect x="494.98" y="220.57" width="5.01" height="33.72" fill="#ffffcc"/><rect x="499.69" y="220.57" width="5.01" height="33.72" fill="#e4ba7b"/><rect x="504.39" y="220.57" width="5.01" height="33.72" fill="#d6945f"/><rect x="509.10" y="220.57" width="5.01" height="33.72" fill="#ecd08f"/><rect x="513.81" y="220.57" width="5.01" height="33.72" fill="#ffffcc"/><rect x="518.52" y="220.57" width="14.43" height="33.72" fill="#f0f8e0"/><rect x="532.65" y="220.57" width="5.01" height="33.72" fill="#ffffcc"/><rect x="537.36" y="220.57" width="5.01" height="33.72" fill="#f6e8ae"/><rect x="542.07" y="220.57" width="9.72" height="33.72" fill="#ffffcc"/><rect x="551.48" y="220.57" width="14.43" height="33.72" fill="#eaf4e8"/><rect x="565.61" y="220.57" width="5.01" height="33.72" fill="#ffffcc"/><rect x="570.32" y="220.57" width="5.01" height="33.72" fill="#f0d99b"/><rect x="575.03" y="220.57" width="5.01" height="33.72" fill="#fbf6c0"/><rect x="579.74" y="220.57" width="9.72" height="33.72" fill="#e7f3eb"/><rect x="589.16" y="220.57" width="5.01" height="33.72" fill="#eaf4e8"/><rect x="593.87" y="220.57" width="14.43" height="33.72" fill="#d5e5ed"/><rect x="607.99" y="220.57" width="5.01" height="33.72" fill="#7d96bf"/><rect x="612.70" y="220.57" width="5.01" height="33.72" fill="#8ca4c6"/><rect x="617.41" y="220.57" width="5.01" height="33.72" fill="#6d83b5"/><rect x="622.12" y="220.57" width="5.01" height="33.72" fill="#6275ad"/><rect x="626.83" y="220.57" width="5.01" height="33.72" fill="#748cba"/><rect x="631.54" y="220.57" width="5.01" height="33.72" fill="#8ca4c6"/><rect x="636.25" y="220.57" width="5.01" height="33.72" fill="#a3bdd3"/><rect x="640.96" y="220.57" width="14.43" height="33.72" fill="#9ab3ce"/><rect x="655.08" y="220.57" width="5.01" height="33.72" fill="#e1eff3"/><rect x="659.79" y="220.57" width="5.01" height="33.72" fill="#ffffcc"/><rect x="664.50" y="220.57" width="5.01" height="33.72" fill="#f9f1ba"/><rect x="669.21" y="220.57" width="5.01" height="33.72" fill="#ecd08f"/><rect x="673.92" y="220.57" width="5.01" height="33.72" fill="#f6e8ae"/><rect x="678.63" y="220.57" width="14.43" height="33.72" fill="#ffffcc"/><rect x="692.76" y="220.57" width="5.01" height="33.72" fill="#f2dea1"/><rect x="697.46" y="220.57" width="5.01" height="33.72" fill="#e9c787"/><rect x="702.17" y="220.57" width="5.01" height="33.72" fill="#dda468"/><rect x="706.88" y="220.57" width="5.01" height="33.72" fill="#e9c787"/><rect x="711.59" y="220.57" width="5.01" height="33.72" fill="#f0d99b"/><rect x="716.30" y="220.57" width="5.01" height="33.72" fill="#e9c787"/><rect x="721.01" y="220.57" width="5.01" height="33.72" fill="#f0d99b"/><rect x="725.72" y="220.57" width="5.01" height="33.72" fill="#e9c787"/><rect x="730.43" y="220.57" width="5.01" height="33.72" fill="#e2b174"/><rect x="735.14" y="220.57" width="5.01" height="33.72" fill="#a84038"/><rect x="739.85" y="220.57" width="5.01" height="33.72" fill="#a03b36"/><rect x="744.56" y="220.57" width="5.01" height="33.72" fill="#b85741"/><rect x="749.26" y="220.57" width="5.01" height="33.72" fill="#943433"/><rect x="753.97" y="220.57" width="19.14" height="33.72" fill="#80282e"/><rect x="772.81" y="220.57" width="5.01" height="33.72" fill="#9c3935"/><rect x="777.52" y="220.57" width="5.01" height="33.72" fill="#a84038"/><rect x="782.23" y="220.57" width="5.01" height="33.72" fill="#b85741"/><rect x="786.94" y="220.57" width="9.72" height="33.72" fill="#c76e4a"/><rect x="796.35" y="220.57" width="9.72" height="33.72" fill="#cb7950"/><rect x="805.77" y="220.57" width="5.01" height="33.72" fill="#d6945f"/><rect x="810.48" y="220.57" width="5.01" height="33.72" fill="#e4ba7b"/><rect x="815.19" y="220.57" width="14.43" height="33.72" fill="#ecd08f"/><rect x="829.32" y="220.57" width="5.01" height="33.72" fill="#e6be7f"/><rect x="834.03" y="220.57" width="5.01" height="33.72" fill="#e0ad70"/><rect x="838.74" y="220.57" width="5.01" height="33.72" fill="#ecd08f"/><rect x="843.44" y="220.57" width="19.14" height="33.72" fill="#f0d99b"/><rect x="862.28" y="220.57" width="5.01" height="33.72" fill="#e9c787"/><rect x="866.99" y="220.57" width="5.01" height="33.72" fill="#e2b174"/><rect x="871.70" y="220.57" width="5.01" height="33.72" fill="#e8c383"/><rect x="876.41" y="220.57" width="23.85" height="33.72" fill="#f0d99b"/><rect x="899.95" y="220.57" width="9.72" height="33.72" fill="#f6e8ae"/><rect x="909.37" y="220.57" width="5.01" height="33.72" fill="#ffffcc"/><rect x="914.08" y="220.57" width="9.72" height="33.72" fill="#f0f8e0"/><rect x="923.50" y="220.57" width="5.01" height="33.72" fill="#f9f1ba"/><rect x="928.21" y="220.57" width="5.01" height="33.72" fill="#ecd08f"/><rect x="932.92" y="220.57" width="5.01" height="33.72" fill="#f2dea1"/><rect x="937.63" y="220.57" width="14.43" height="33.72" fill="#f0d99b"/><rect x="951.75" y="220.57" width="14.43" height="33.72" fill="#ecd08f"/><rect x="965.88" y="220.57" width="5.01" height="33.72" fill="#e4ba7b"/><rect x="970.59" y="220.57" width="5.01" height="33.72" fill="#e9c787"/><rect x="975.30" y="220.57" width="14.43" height="33.72" fill="#f0d99b"/><rect x="989.42" y="220.57" width="14.43" height="33.72" fill="#f6e8ae"/><rect x="1003.55" y="220.57" width="5.01" height="33.72" fill="#ffffcc"/><rect x="1008.26" y="220.57" width="5.01" height="33.72" fill="#e1eff3"/><rect x="1012.97" y="220.57" width="19.14" height="33.72" fill="#9ab3ce"/><rect x="1031.81" y="220.57" width="5.01" height="33.72" fill="#a3bdd3"/><rect x="1036.52" y="220.57" width="5.01" height="33.72" fill="#8ca4c6"/><rect x="1041.22" y="220.57" width="14.43" height="33.72" fill="#748cba"/><rect x="1055.35" y="220.57" width="5.01" height="33.72" fill="#697eb2"/><rect x="1060.06" y="220.57" width="9.72" height="33.72" fill="#9ab3ce"/><rect x="1069.48" y="220.57" width="5.01" height="33.72" fill="#7d96bf"/><rect x="1074.19" y="220.57" width="14.43" height="33.72" fill="#697eb2"/><rect x="1088.31" y="220.57" width="5.01" height="33.72" fill="#7d96bf"/><rect x="1093.02" y="220.57" width="9.72" height="33.72" fill="#95aecc"/><rect x="1102.44" y="220.57" width="19.14" height="33.72" fill="#748cba"/><rect x="1121.28" y="220.57" width="9.72" height="33.72" fill="#8ca4c6"/><rect x="1130.70" y="220.57" width="9.72" height="33.72" fill="#a3bdd3"/><rect x="1140.11" y="220.57" width="14.43" height="33.72" fill="#8ca4c6"/><rect x="1154.24" y="220.57" width="9.72" height="33.72" fill="#ffffcc"/><rect x="1163.66" y="220.57" width="14.43" height="33.72" fill="#f0d99b"/><rect x="1177.79" y="220.57" width="9.72" height="33.72" fill="#ecd08f"/><rect x="1187.20" y="220.57" width="5.01" height="33.72" fill="#f9f1ba"/><rect x="1191.91" y="220.57" width="9.72" height="33.72" fill="#f2dea1"/><rect x="1201.33" y="220.57" width="5.01" height="33.72" fill="#f9f1ba"/><rect x="1206.04" y="220.57" width="5.01" height="33.72" fill="#f9fcd4"/><rect x="1210.75" y="220.57" width="19.14" height="33.72" fill="#f0f8e0"/><rect x="1229.59" y="220.57" width="5.01" height="33.72" fill="#ffffcc"/><rect x="1234.29" y="220.57" width="28.55" height="33.72" fill="#edf6e4"/><rect x="1262.55" y="220.57" width="5.01" height="33.72" fill="#ffffcc"/><rect x="1267.26" y="220.57" width="14.43" height="33.72" fill="#e1eff3"/><rect x="1281.38" y="220.57" width="9.72" height="33.72" fill="#f9f1ba"/><rect x="1290.80" y="220.57" width="5.01" height="33.72" fill="#f0d99b"/><rect x="1295.51" y="220.57" width="5.01" height="33.72" fill="#e9c787"/><rect x="1300.22" y="220.57" width="9.72" height="33.72" fill="#f0d99b"/><rect x="1309.64" y="220.57" width="14.43" height="33.72" fill="#f2dea1"/><rect x="1323.77" y="220.57" width="5.01" height="33.72" fill="#ecd08f"/><rect x="1328.47" y="220.57" width="9.72" height="33.72" fill="#dda468"/><rect x="1337.89" y="220.57" width="5.01" height="33.72" fill="#d6945f"/><rect x="1342.60" y="220.57" width="5.01" height="33.72" fill="#d28959"/><rect x="1347.31" y="220.57" width="5.01" height="33.72" fill="#c76e4a"/><rect x="1352.02" y="220.57" width="5.01" height="33.72" fill="#cb7950"/><rect x="1356.73" y="220.57" width="5.01" height="33.72" fill="#b85741"/><rect x="1361.44" y="220.57" width="5.01" height="33.72" fill="#a03b36"/><rect x="1366.15" y="220.57" width="5.01" height="33.72" fill="#a84038"/><rect x="1370.86" y="220.57" width="9.72" height="33.72" fill="#a03b36"/><rect x="1380.27" y="220.57" width="5.01" height="33.72" fill="#943433"/><rect x="1384.98" y="220.57" width="14.43" height="33.72" fill="#882d30"/><rect x="1399.11" y="220.57" width="14.43" height="33.72" fill="#9c3935"/><rect x="1413.24" y="220.57" width="14.43" height="33.72" fill="#903232"/><rect x="1427.36" y="220.57" width="5.01" height="33.72" fill="#8c2f31"/><rect x="1432.07" y="220.57" width="9.72" height="33.72" fill="#983634"/><rect x="1441.49" y="220.57" width="9.72" height="33.72" fill="#9c3935"/><rect x="1450.91" y="220.57" width="14.43" height="33.72" fill="#943433"/><rect x="1465.04" y="220.57" width="5.01" height="33.72" fill="#a84038"/><rect x="1469.75" y="220.57" width="9.72" height="33.72" fill="#b14e3d"/><rect x="1479.16" y="220.57" width="5.01" height="33.72" fill="#b85741"/><rect x="1483.87" y="220.57" width="5.01" height="33.72" fill="#ae493c"/><rect x="1488.58" y="220.57" width="17.72" height="33.72" fill="#a03b36"/>
<rect x="82.00" y="253.98" width="13.01" height="38.72" fill="#c76e4a"/><rect x="94.71" y="253.98" width="5.01" height="38.72" fill="#b85741"/><rect x="99.42" y="253.98" width="5.01" height="38.72" fill="#ae493c"/><rect x="104.13" y="253.98" width="5.01" height="38.72" fill="#a84038"/><rect x="108.84" y="253.98" width="9.72" height="38.72" fill="#8c2f31"/><rect x="118.25" y="253.98" width="19.14" height="38.72" fill="#943433"/><rect x="137.09" y="253.98" width="9.72" height="38.72" fill="#80282e"/><rect x="146.51" y="253.98" width="5.01" height="38.72" fill="#a84038"/><rect x="151.22" y="253.98" width="5.01" height="38.72" fill="#b14e3d"/><rect x="155.93" y="253.98" width="9.72" height="38.72" fill="#b85741"/><rect x="165.34" y="253.98" width="9.72" height="38.72" fill="#b14e3d"/><rect x="174.76" y="253.98" width="5.01" height="38.72" fill="#a84038"/><rect x="179.47" y="253.98" width="5.01" height="38.72" fill="#b85741"/><rect x="184.18" y="253.98" width="5.01" height="38.72" fill="#cb7950"/><rect x="188.89" y="253.98" width="5.01" height="38.72" fill="#d28959"/><rect x="193.60" y="253.98" width="5.01" height="38.72" fill="#d99962"/><rect x="198.31" y="253.98" width="5.01" height="38.72" fill="#d28959"/><rect x="203.02" y="253.98" width="5.01" height="38.72" fill="#c76e4a"/><rect x="207.73" y="253.98" width="5.01" height="38.72" fill="#b85741"/><rect x="212.43" y="253.98" width="5.01" height="38.72" fill="#c76e4a"/><rect x="217.14" y="253.98" width="5.01" height="38.72" fill="#ecd08f"/><rect x="221.85" y="253.98" width="5.01" height="38.72" fill="#f0d99b"/><rect x="226.56" y="253.98" width="9.72" height="38.72" fill="#f6e8ae"/><rect x="235.98" y="253.98" width="5.01" height="38.72" fill="#f0d99b"/><rect x="240.69" y="253.98" width="5.01" height="38.72" fill="#e9c787"/><rect x="245.40" y="253.98" width="5.01" height="38.72" fill="#f6e8ae"/><rect x="250.11" y="253.98" width="19.14" height="38.72" fill="#ffffcc"/><rect x="268.94" y="253.98" width="5.01" height="38.72" fill="#f7ecb4"/><rect x="273.65" y="253.98" width="5.01" height="38.72" fill="#f2dea1"/><rect x="278.36" y="253.98" width="5.01" height="38.72" fill="#f9f1ba"/><rect x="283.07" y="253.98" width="9.72" height="38.72" fill="#ffffcc"/><rect x="292.49" y="253.98" width="5.01" height="38.72" fill="#f9f1ba"/><rect x="297.20" y="253.98" width="5.01" height="38.72" fill="#f6e8ae"/><rect x="301.91" y="253.98" width="5.01" height="38.72" fill="#f2dea1"/><rect x="306.62" y="253.98" width="5.01" height="38.72" fill="#f7ecb4"/><rect x="311.32" y="253.98" width="5.01" height="38.72" fill="#f2dea1"/><rect x="316.03" y="253.98" width="5.01" height="38.72" fill="#cee0e9"/><rect x="320.74" y="253.98" width="14.43" height="38.72" fill="#a3bdd3"/><rect x="334.87" y="253.98" width="5.01" height="38.72" fill="#b6ccdd"/><rect x="339.58" y="253.98" width="5.01" height="38.72" fill="#a3bdd3"/><rect x="344.29" y="253.98" width="5.01" height="38.72" fill="#505ea0"/><rect x="349.00" y="253.98" width="14.43" height="38.72" fill="#3a3d89"/><rect x="363.12" y="253.98" width="9.72" height="38.72" fill="#495499"/><rect x="372.54" y="253.98" width="5.01" height="38.72" fill="#6275ad"/><rect x="377.25" y="253.98" width="5.01" height="38.72" fill="#505ea0"/><rect x="381.96" y="253.98" width="19.14" height="38.72" fill="#5b6ca8"/><rect x="400.80" y="253.98" width="5.01" height="38.72" fill="#748cba"/><rect x="405.51" y="253.98" width="5.01" height="38.72" fill="#697eb2"/><rect x="410.21" y="253.98" width="5.01" height="38.72" fill="#5b6ca8"/><rect x="414.92" y="253.98" width="9.72" height="38.72" fill="#505ea0"/><rect x="424.34" y="253.98" width="9.72" height="38.72" fill="#5e70aa"/><rect x="433.76" y="253.98" width="5.01" height="38.72" fill="#a3bdd3"/><rect x="438.47" y="253.98" width="9.72" height="38.72" fill="#e1eff3"/><rect x="447.89" y="253.98" width="9.72" height="38.72" fill="#a3bdd3"/><rect x="457.30" y="253.98" width="9.72" height="38.72" fill="#c2d6e3"/><rect x="466.72" y="253.98" width="9.72" height="38.72" fill="#e7f3eb"/><rect x="476.14" y="253.98" width="5.01" height="38.72" fill="#d5e5ed"/><rect x="480.85" y="253.98" width="9.72" height="38.72" fill="#c2d6e3"/><rect x="490.27" y="253.98" width="5.01" height="38.72" fill="#e1eff3"/><rect x="494.98" y="253.98" width="5.01" height="38.72" fill="#f9f1ba"/><rect x="499.69" y="253.98" width="5.01" height="38.72" fill="#e4ba7b"/><rect x="504.39" y="253.98" width="5.01" height="38.72" fill="#dda468"/><rect x="509.10" y="253.98" width="5.01" height="38.72" fill="#e9c787"/><rect x="513.81" y="253.98" width="5.01" height="38.72" fill="#e4ba7b"/><rect x="518.52" y="253.98" width="14.43" height="38.72" fill="#f0d99b"/><rect x="532.65" y="253.98" width="5.01" height="38.72" fill="#e9c787"/><rect x="537.36" y="253.98" width="5.01" height="38.72" fill="#e2b174"/><rect x="542.07" y="253.98" width="5.01" height="38.72" fill="#f6e8ae"/><rect x="546.78" y="253.98" width="19.14" height="38.72" fill="#ffffcc"/><rect x="565.61" y="253.98" width="5.01" height="38.72" fill="#e4ba7b"/><rect x="570.32" y="253.98" width="5.01" height="38.72" fill="#d28959"/><rect x="575.03" y="253.98" width="5.01" height="38.72" fill="#e2b174"/><rect x="579.74" y="253.98" width="9.72" height="38.72" fill="#ecd08f"/><rect x="589.16" y="253.98" width="5.01" height="38.72" fill="#e9c787"/><rect x="593.87" y="253.98" width="5.01" height="38.72" fill="#ffffcc"/><rect x="598.58" y="253.98" width="9.72" height="38.72" fill="#f9f1ba"/><rect x="607.99" y="253.98" width="5.01" height="38.72" fill="#c2d6e3"/><rect x="612.70" y="253.98" width="9.72" height="38.72" fill="#4c579b"/><rect x="622.12" y="253.98" width="19.14" height="38.72" fill="#454e94"/><rect x="640.96" y="253.98" width="19.14" height="38.72" fill="#3a3d89"/><rect x="659.79" y="253.98" width="5.01" height="38.72" fill="#454e94"/><rect x="664.50" y="253.98" width="5.01" height="38.72" fill="#6275ad"/><rect x="669.21" y="253.98" width="5.01" height="38.72" fill="#748cba"/><rect x="673.92" y="253.98" width="5.01" height="38.72" fill="#6275ad"/><rect x="678.63" y="253.98" width="5.01" height="38.72" fill="#495499"/><rect x="683.34" y="253.98" width="5.01" height="38.72" fill="#5b6ca8"/><rect x="688.05" y="253.98" width="9.72" height="38.72" fill="#697eb2"/><rect x="697.46" y="253.98" width="5.01" height="38.72" fill="#7d96bf"/><rect x="702.17" y="253.98" width="5.01" height="38.72" fill="#9ab3ce"/><rect x="706.88" y="253.98" width="5.01" height="38.72" fill="#a3bdd3"/><rect x="711.59" y="253.98" width="14.43" height="38.72" fill="#7d96bf"/><rect x="725.72" y="253.98" width="5.01" height="38.72" fill="#9ab3ce"/><rect x="730.43" y="253.98" width="5.01" height="38.72" fill="#cee0e9"/><rect x="735.14" y="253.98" width="5.01" height="38.72" fill="#f6e8ae"/><rect x="739.85" y="253.98" width="5.01" height="38.72" fill="#ffffcc"/><rect x="744.56" y="253.98" width="5.01" height="38.72" fill="#f9fcd4"/><rect x="749.26" y="253.98" width="5.01" height="38.72" fill="#f6e8ae"/><rect x="753.97" y="253.98" width="5.01" height="38.72" fill="#e9c787"/><rect x="758.68" y="253.98" width="5.01" height="38.72" fill="#e2b174"/><rect x="763.39" y="253.98" width="5.01" height="38.72" fill="#cb7950"/><rect x="768.10" y="253.98" width="5.01" height="38.72" fill="#b85741"/><rect x="772.81" y="253.98" width="5.01" height="38.72" fill="#ae493c"/><rect x="777.52" y="253.98" width="9.72" height="38.72" fill="#b85741"/><rect x="786.94" y="253.98" width="5.01" height="38.72" fill="#ae493c"/><rect x="791.65" y="253.98" width="5.01" height="38.72" fill="#a03b36"/><rect x="796.35" y="253.98" width="9.72" height="38.72" fill="#8c2f31"/><rect x="805.77" y="253.98" width="5.01" height="38.72" fill="#a03b36"/><rect x="810.48" y="253.98" width="28.55" height="38.72" fill="#b14e3d"/><rect x="838.74" y="253.98" width="9.72" height="38.72" fill="#cb7950"/><rect x="848.15" y="253.98" width="9.72" height="38.72" fill="#c76e4a"/><rect x="857.57" y="253.98" width="5.01" height="38.72" fill="#cb7950"/><rect x="862.28" y="253.98" width="5.01" height="38.72" fill="#be6045"/><rect x="866.99" y="253.98" width="5.01" height="38.72" fill="#ae493c"/><rect x="871.70" y="253.98" width="9.72" height="38.72" fill="#b85741"/><rect x="881.12" y="253.98" width="14.43" height="38.72" fill="#ae493c"/><rect x="895.24" y="253.98" width="5.01" height="38.72" fill="#a84038"/><rect x="899.95" y="253.98" width="5.01" height="38.72" fill="#8c2f31"/><rect x="904.66" y="253.98" width="5.01" height="38.72" fill="#a84038"/><rect x="909.37" y="253.98" width="5.01" height="38.72" fill="#b85741"/><rect x="914.08" y="253.98" width="14.43" height="38.72" fill="#c76e4a"/><rect x="928.21" y="253.98" width="5.01" height="38.72" fill="#c16546"/><rect x="932.92" y="253.98" width="9.72" height="38.72" fill="#b85741"/><rect x="942.33" y="253.98" width="5.01" height="38.72" fill="#c76e4a"/><rect x="947.04" y="253.98" width="5.01" height="38.72" fill="#c16546"/><rect x="951.75" y="253.98" width="9.72" height="38.72" fill="#c76e4a"/><rect x="961.17" y="253.98" width="5.01" height="38.72" fill="#be6045"/><rect x="965.88" y="253.98" width="5.01" height="38.72" fill="#ae493c"/><rect x="970.59" y="253.98" width="5.01" height="38.72" fill="#a84038"/><rect x="975.30" y="253.98" width="5.01" height="38.72" fill="#b85741"/><rect x="980.01" y="253.98" width="9.72" height="38.72" fill="#cb7950"/><rect x="989.42" y="253.98" width="14.43" height="38.72" fill="#dda468"/><rect x="1003.55" y="253.98" width="9.72" height="38.72" fill="#ffffcc"/><rect x="1012.97" y="253.98" width="9.72" height="38.72" fill="#f9fcd4"/><rect x="1022.39" y="253.98" width="5.01" height="38.72" fill="#fbf6c0"/><rect x="1027.10" y="253.98" width="9.72" height="38.72" fill="#ffffcc"/><rect x="1036.52" y="253.98" width="5.01" height="38.72" fill="#f6fbd8"/><rect x="1041.22" y="253.98" width="9.72" height="38.72" fill="#e7f3eb"/><rect x="1050.64" y="253.98" width="9.72" height="38.72" fill="#e1eff3"/><rect x="1060.06" y="253.98" width="9.72" height="38.72" fill="#f0f8e0"/><rect x="1069.48" y="253.98" width="5.01" height="38.72" fill="#e1eff3"/><rect x="1074.19" y="253.98" width="9.72" height="38.72" fill="#d5e5ed"/><rect x="1083.61" y="253.98" width="9.72" height="38.72" fill="#afc7d9"/><rect x="1093.02" y="253.98" width="9.72" height="38.72" fill="#d5e5ed"/><rect x="1102.44" y="253.98" width="9.72" height="38.72" fill="#a3bdd3"/><rect x="1111.86" y="253.98" width="14.43" height="38.72" fill="#9ab3ce"/><rect x="1125.99" y="253.98" width="5.01" height="38.72" fill="#c2d6e3"/><rect x="1130.70" y="253.98" width="5.01" height="38.72" fill="#ffffcc"/><rect x="1135.40" y="253.98" width="5.01" height="38.72" fill="#f0f8e0"/><rect x="1140.11" y="253.98" width="14.43" height="38.72" fill="#e1eff3"/><rect x="1154.24" y="253.98" width="5.01" height="38.72" fill="#d5e5ed"/><rect x="1158.95" y="253.98" width="5.01" height="38.72" fill="#f0f8e0"/><rect x="1163.66" y="253.98" width="5.01" height="38.72" fill="#ffffcc"/><rect x="1168.37" y="253.98" width="14.43" height="38.72" fill="#edf6e4"/><rect x="1182.49" y="253.98" width="9.72" height="38.72" fill="#ffffcc"/><rect x="1191.91" y="253.98" width="5.01" height="38.72" fill="#f6e8ae"/><rect x="1196.62" y="253.98" width="5.01" height="38.72" fill="#e9c787"/><rect x="1201.33" y="253.98" width="5.01" height="38.72" fill="#ffffcc"/><rect x="1206.04" y="253.98" width="5.01" height="38.72" fill="#c2d6e3"/><rect x="1210.75" y="253.98" width="9.72" height="38.72" fill="#748cba"/><rect x="1220.17" y="253.98" width="5.01" height="38.72" fill="#495499"/><rect x="1224.88" y="253.98" width="5.01" height="38.72" fill="#5b6ca8"/><rect x="1229.59" y="253.98" width="5.01" height="38.72" fill="#6d83b5"/><rect x="1234.29" y="253.98" width="5.01" height="38.72" fill="#4c579b"/><rect x="1239.00" y="253.98" width="19.14" height="38.72" fill="#3e448e"/><rect x="1257.84" y="253.98" width="5.01" height="38.72" fill="#505ea0"/><rect x="1262.55" y="253.98" width="5.01" height="38.72" fill="#6d83b5"/><rect x="1267.26" y="253.98" width="5.01" height="38.72" fill="#505ea0"/><rect x="1271.97" y="253.98" width="9.72" height="38.72" fill="#3a3d89"/><rect x="1281.38" y="253.98" width="5.01" height="38.72" fill="#4c579b"/><rect x="1286.09" y="253.98" width="5.01" height="38.72" fill="#6275ad"/><rect x="1290.80" y="253.98" width="5.01" height="38.72" fill="#7d96bf"/><rect x="1295.51" y="253.98" width="5.01" height="38.72" fill="#9ab3ce"/><rect x="1300.22" y="253.98" width="5.01" height="38.72" fill="#748cba"/><rect x="1304.93" y="253.98" width="19.14" height="38.72" fill="#6d83b5"/><rect x="1323.77" y="253.98" width="5.01" height="38.72" fill="#7d96bf"/><rect x="1328.47" y="253.98" width="5.01" height="38.72" fill="#9ab3ce"/><rect x="1333.18" y="253.98" width="5.01" height="38.72" fill="#a3bdd3"/><rect x="1337.89" y="253.98" width="5.01" height="38.72" fill="#afc7d9"/><rect x="1342.60" y="253.98" width="5.01" height="38.72" fill="#e1eff3"/><rect x="1347.31" y="253.98" width="5.01" height="38.72" fill="#f0f8e0"/><rect x="1352.02" y="253.98" width="5.01" height="38.72" fill="#ffffcc"/><rect x="1356.73" y="253.98" width="5.01" height="38.72" fill="#ecd08f"/><rect x="1361.44" y="253.98" width="5.01" height="38.72" fill="#dda468"/><rect x="1366.15" y="253.98" width="5.01" height="38.72" fill="#e2b174"/><rect x="1370.86" y="253.98" width="5.01" height="38.72" fill="#dda468"/><rect x="1375.57" y="253.98" width="5.01" height="38.72" fill="#d99962"/><rect x="1380.27" y="253.98" width="5.01" height="38.72" fill="#cb7950"/><rect x="1384.98" y="253.98" width="9.72" height="38.72" fill="#d28959"/><rect x="1394.40" y="253.98" width="5.01" height="38.72" fill="#cb7950"/><rect x="1399.11" y="253.98" width="5.01" height="38.72" fill="#dda468"/><rect x="1403.82" y="253.98" width="5.01" height="38.72" fill="#e2b174"/><rect x="1408.53" y="253.98" width="5.01" height="38.72" fill="#dda468"/><rect x="1413.24" y="253.98" width="5.01" height="38.72" fill="#d28959"/><rect x="1417.95" y="253.98" width="5.01" height="38.72" fill="#d99962"/><rect x="1422.66" y="253.98" width="5.01" height="38.72" fill="#cb7950"/><rect x="1427.36" y="253.98" width="5.01" height="38.72" fill="#be6045"/><rect x="1432.07" y="253.98" width="5.01" height="38.72" fill="#d6945f"/><rect x="1436.78" y="253.98" width="5.01" height="38.72" fill="#e0ad70"/><rect x="1441.49" y="253.98" width="5.01" height="38.72" fill="#d99962"/><rect x="1446.20" y="253.98" width="9.72" height="38.72" fill="#d6945f"/><rect x="1455.62" y="253.98" width="5.01" height="38.72" fill="#d28959"/><rect x="1460.33" y="253.98" width="5.01" height="38.72" fill="#c16546"/><rect x="1465.04" y="253.98" width="5.01" height="38.72" fill="#cb7950"/><rect x="1469.75" y="253.98" width="5.01" height="38.72" fill="#dda468"/><rect x="1474.45" y="253.98" width="5.01" height="38.72" fill="#d28959"/><rect x="1479.16" y="253.98" width="9.72" height="38.72" fill="#dda468"/><rect x="1488.58" y="253.98" width="5.01" height="38.72" fill="#e2b174"/><rect x="1493.29" y="253.98" width="13.01" height="38.72" fill="#d28959"/>
</g></g>
<g opacity="0.085"><text x="582.5" y="205.2" font-size="95" style="font-family:'Liberation Sans',sans-serif;fill:#50535a;stroke:#50535a;stroke-width:2.2px" textLength="420" lengthAdjust="spacingAndGlyphs">glassnode</text></g>
<rect x="90" y="358" width="1408" height="201" fill="#e5ebf5"/>
<g opacity="0.108"><text x="582.5" y="488.6" font-size="95" style="font-family:'Liberation Sans',sans-serif;fill:#50535a;stroke:#50535a;stroke-width:2.2px" textLength="420" lengthAdjust="spacingAndGlyphs">glassnode</text></g>
<line x1="120.609" y1="358" x2="120.609" y2="559" stroke="#fff" stroke-width="1.4"/><line x1="261.88" y1="358" x2="261.88" y2="559" stroke="#fff" stroke-width="1.4"/><line x1="407.86" y1="358" x2="407.86" y2="559" stroke="#fff" stroke-width="1.4"/><line x1="549.13" y1="358" x2="549.13" y2="559" stroke="#fff" stroke-width="1.4"/><line x1="695.11" y1="358" x2="695.11" y2="559" stroke="#fff" stroke-width="1.4"/><line x1="841.09" y1="358" x2="841.09" y2="559" stroke="#fff" stroke-width="1.4"/><line x1="982.361" y1="358" x2="982.361" y2="559" stroke="#fff" stroke-width="1.4"/><line x1="1128.34" y1="358" x2="1128.34" y2="559" stroke="#fff" stroke-width="1.4"/><line x1="1269.61" y1="358" x2="1269.61" y2="559" stroke="#fff" stroke-width="1.4"/><line x1="1415.59" y1="358" x2="1415.59" y2="559" stroke="#fff" stroke-width="1.4"/><line x1="90" y1="386.3" x2="1498" y2="386.3" stroke="#fff" stroke-width="1.4"/><line x1="90" y1="423.7" x2="1498" y2="423.7" stroke="#fff" stroke-width="1.4"/><line x1="90" y1="461.1" x2="1498" y2="461.1" stroke="#fff" stroke-width="1.4"/><line x1="90" y1="498.5" x2="1498" y2="498.5" stroke="#fff" stroke-width="1.4"/><line x1="90" y1="535.9" x2="1498" y2="535.9" stroke="#fff" stroke-width="1.4"/>
<polyline fill="none" stroke="#797979" stroke-width="2.2" stroke-linejoin="round" points="92.4,509.6 97.1,508.6 101.8,518.3 106.5,525.4 111.2,526.6 115.9,525.8 120.6,516.8 125.3,526.1 130.0,523.6 134.7,521.0 139.4,522.2 144.2,541.9 148.9,538.3 153.6,549.1 158.3,526.3 163.0,536.8 167.7,522.8 172.4,515.8 177.1,521.6 181.8,518.2 186.5,522.1 191.2,520.6 196.0,517.0 200.7,519.1 205.4,516.7 210.1,516.4 214.8,507.8 219.5,485.3 224.2,484.5 228.9,483.3 233.6,480.3 238.3,480.5 243.0,484.2 247.8,479.3 252.5,482.3 257.2,482.7 261.9,474.3 266.6,472.5 271.3,476.3 276.0,481.5 280.7,480.1 285.4,472.9 290.1,472.0 294.8,448.6 299.6,449.6 304.3,443.0 309.0,445.2 313.7,450.4 318.4,445.2 323.1,447.8 327.8,446.8 332.5,447.7 337.2,449.0 341.9,436.2 346.6,440.0 351.4,435.3 356.1,426.0 360.8,417.8 365.5,433.5 370.2,432.0 374.9,427.2 379.6,425.4 384.3,427.2 389.0,431.7 393.7,439.8 398.4,445.8 403.2,443.3 407.9,439.8 412.6,438.9 417.3,440.6 422.0,443.6 426.7,454.3 431.4,444.3 436.1,440.1 440.8,439.5 445.5,422.6 450.2,422.7 454.9,428.7 459.7,439.5 464.4,438.0 469.1,440.3 473.8,439.8 478.5,435.6 483.2,443.7 487.9,442.4 492.6,443.4 497.3,448.0 502.0,452.8 506.7,457.0 511.5,440.3 516.2,437.3 520.9,432.8 525.6,434.6 530.3,434.2 535.0,433.4 539.7,429.5 544.4,434.6 549.1,439.9 553.8,427.3 558.5,424.9 563.3,430.9 568.0,430.1 572.7,426.4 577.4,429.8 582.1,427.3 586.8,418.6 591.5,401.6 596.2,395.7 600.9,395.7 605.6,389.3 610.3,386.6 615.1,394.8 619.8,391.2 624.5,389.0 629.2,393.5 633.9,393.9 638.6,396.5 643.3,396.0 648.0,385.5 652.7,390.3 657.4,392.3 662.1,395.3 666.9,394.1 671.6,388.2 676.3,393.3 681.0,393.6 685.7,394.2 690.4,402.0 695.1,410.7 699.8,414.0 704.5,407.6 709.2,404.3 713.9,408.0 718.7,404.7 723.4,395.3 728.1,398.0 732.8,399.3 737.5,388.5 742.2,391.2 746.9,385.5 751.6,374.0 756.3,392.3 761.0,395.6 765.7,395.6 770.5,395.6 775.2,399.8 779.9,412.8 784.6,407.0 789.3,413.7 794.0,397.8 798.7,403.5 803.4,410.3 808.1,422.6 812.8,416.6 817.5,418.6 822.3,413.7 827.0,429.4 831.7,427.6 836.4,429.8 841.1,426.1 845.8,418.9 850.5,417.1 855.2,420.8 859.9,421.1 864.6,422.8 869.3,419.3 874.1,415.5 878.8,417.8 883.5,408.0 888.2,402.5 892.9,400.8 897.6,401.6 902.3,403.5 907.0,403.5 911.7,397.8 916.4,399.3 921.1,396.8 925.9,402.0 930.6,402.0 935.3,404.0 940.0,413.3 944.7,415.8 949.4,410.6 954.1,427.1 958.8,424.9 963.5,424.9 968.2,415.5 972.9,406.7 977.7,408.5 982.4,390.5 987.1,383.0 991.8,377.5 996.5,376.7 1001.2,372.5 1005.9,368.5 1010.6,380.8 1015.3,373.3 1020.0,379.7 1024.7,412.3 1029.5,419.8 1034.2,404.5 1038.9,403.7 1043.6,412.3 1048.3,421.0 1053.0,430.3 1057.7,436.6 1062.4,434.1 1067.1,428.1 1071.8,421.3 1076.5,429.6 1081.3,432.3 1086.0,422.8 1090.7,419.5 1095.4,417.3 1100.1,406.3 1104.8,407.8 1109.5,412.6 1114.2,423.3 1118.9,429.9 1123.6,425.1 1128.3,423.1 1133.1,421.3 1137.8,435.6 1142.5,454.6 1147.2,446.4 1151.9,455.8 1156.6,448.0 1161.3,452.5 1166.0,443.2 1170.7,438.3 1175.4,449.2 1180.1,454.8 1184.8,462.0 1189.6,481.1 1194.3,477.3 1199.0,482.3 1203.7,490.1 1208.4,487.1 1213.1,492.8 1217.8,511.1 1222.5,515.9 1227.2,517.8 1231.9,509.6 1236.6,504.3 1241.4,508.1 1246.1,496.1 1250.8,493.1 1255.5,494.6 1260.2,495.0 1264.9,496.5 1269.6,511.8 1274.3,493.1 1279.0,485.1 1283.7,490.5 1288.4,500.6 1293.2,501.0 1297.9,496.5 1302.6,495.6 1307.3,487.8 1312.0,490.5 1316.7,488.9 1321.4,496.8 1326.1,497.1 1330.8,504.8 1335.5,511.8 1340.2,505.0 1345.0,511.9 1349.7,515.4 1354.4,505.0 1359.1,504.1 1363.8,503.1 1368.5,503.4 1373.2,507.9 1377.9,507.1 1382.6,508.8 1387.3,508.1 1392.0,505.9 1396.8,505.6 1401.5,508.8 1406.2,504.0 1410.9,507.5 1415.6,502.2 1420.3,497.9 1425.0,495.4 1429.7,492.5 1434.4,483.5 1439.1,484.1 1443.8,493.1 1448.6,494.4 1453.3,495.6 1458.0,496.9 1462.7,495.0 1467.4,493.8 1472.1,478.1 1476.8,471.9 1481.5,477.1 1486.2,477.5 1490.9,479.0 1495.6,484.0"/>
<text x="80" y="29.5" font-size="19.4">Trend Accumulation Score by Cohort</text>
<text x="88.7" y="108.4" font-size="13.6" text-anchor="end">&gt;10k</text><text x="88.7" y="141.8" font-size="13.6" text-anchor="end">1k-10k</text><text x="88.7" y="175.2" font-size="13.6" text-anchor="end">100-1k</text><text x="88.7" y="208.7" font-size="13.6" text-anchor="end">10-100</text><text x="88.7" y="242.1" font-size="13.6" text-anchor="end">1-10</text><text x="88.7" y="275.5" font-size="13.6" text-anchor="end">&lt;1</text>
<text transform="translate(18,187) rotate(-90)" font-size="16" text-anchor="middle">Cohorts by BTC</text>
<text transform="translate(33,459) rotate(-90)" font-size="16" text-anchor="middle">Price</text>
<text x="88.7" y="391.1" font-size="13.6" text-anchor="end">120k</text><text x="88.7" y="428.5" font-size="13.6" text-anchor="end">110k</text><text x="88.7" y="465.9" font-size="13.6" text-anchor="end">100k</text><text x="88.7" y="503.3" font-size="13.6" text-anchor="end">90k</text><text x="88.7" y="540.7" font-size="13.6" text-anchor="end">80k</text><text x="120.609" y="574.4" font-size="13.6" text-anchor="middle">Apr 2025</text><text x="261.88" y="574.4" font-size="13.6" text-anchor="middle">May 2025</text><text x="407.86" y="574.4" font-size="13.6" text-anchor="middle">Jun 2025</text><text x="549.13" y="574.4" font-size="13.6" text-anchor="middle">Jul 2025</text><text x="695.11" y="574.4" font-size="13.6" text-anchor="middle">Aug 2025</text><text x="841.09" y="574.4" font-size="13.6" text-anchor="middle">Sep 2025</text><text x="982.361" y="574.4" font-size="13.6" text-anchor="middle">Oct 2025</text><text x="1128.34" y="574.4" font-size="13.6" text-anchor="middle">Nov 2025</text><text x="1269.61" y="574.4" font-size="13.6" text-anchor="middle">Dec 2025</text><text x="1415.59" y="574.4" font-size="13.6" text-anchor="middle">Jan 2026</text>
<rect x="1537.5" y="98" width="34" height="450" fill="url(#cb)"/>
<text x="1575" y="102.8" font-size="13.6">1</text><text x="1575" y="192.8" font-size="13.6">0.8</text><text x="1575" y="282.8" font-size="13.6">0.6</text><text x="1575" y="372.8" font-size="13.6">0.4</text><text x="1575" y="462.8" font-size="13.6">0.2</text><text x="1575" y="552.8" font-size="13.6">0</text>
<text x="92.4" y="612" font-size="17.0" style="fill:#a9afbb">Based on data from 2026-01-19</text>
<text x="1495.3" y="612" font-size="17.1" text-anchor="end" style="fill:#a9afbb">© 2026 Glassnode. All Rights Reserved</text>
<rect x="1188.6" y="72.2" width="146.8" height="56.1" rx="4.5" fill="none" stroke="#111" stroke-width="2.9"/>
<rect x="1314.3" y="107.1" width="141.5" height="50.2" rx="4.5" fill="none" stroke="#111" stroke-width="2.9"/>
<rect x="1358.6" y="148.1" width="142.6" height="150.2" rx="4.5" fill="none" stroke="#111" stroke-width="2.6"/>
<text class="ann" x="1263.3" y="63.2" font-size="15.4" textLength="150.5" lengthAdjust="spacing">Whales accumulating</text>
<text class="ann" x="1333" y="318.3" font-size="15.4" textLength="201" lengthAdjust="spacing">Smaller cohorts distributiing</text>
<rect x="1549.8" y="596.8" width="45.4" height="38.4" rx="19.2" fill="#4a4d51"/>
<g transform="translate(1572.4,615.9) scale(0.94)" fill="none" stroke="#fff" stroke-width="1.9" stroke-linecap="round" stroke-linejoin="round"><path d="M8.5 -2.4V-4.4a4 4 0 0 0 -4 -4H-4.4a4 4 0 0 0 -4 4V4.1a4 4 0 0 0 4 4H-2.6"/><path d="M-7.8 3.4L-3.6 -0.9L-1 1.7"/><circle cx="2.3" cy="-3" r="1.1" fill="#fff" stroke-width="1"/><path d="M1.2 6.9L7.6 1.9" stroke-width="5.4"/><path d="M1.2 6.9L7.6 1.9" stroke="#4a4d51" stroke-width="1.9"/></g>
</svg>
</body></html>
